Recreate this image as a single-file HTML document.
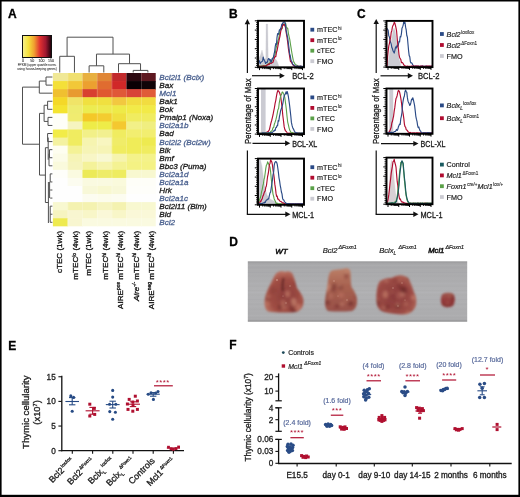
<!DOCTYPE html>
<html><head><meta charset="utf-8"><style>
html,body{margin:0;padding:0;background:#fff;}
svg{display:block;}
text{font-family:"Liberation Sans",sans-serif;stroke-width:0.3px;}
svg{will-change:transform;}
</style></head><body>
<svg xmlns="http://www.w3.org/2000/svg" width="520" height="497" viewBox="0 0 520 497">
<rect x="0" y="0" width="520" height="497" fill="#fff"/>
<text x="8.00" y="17.90" font-size="12" fill="#000" stroke="#000" text-anchor="start" font-weight="bold" style="stroke-width:0.3px">A</text>
<defs><linearGradient id="ck" x1="0" x2="1" y1="0" y2="0"><stop offset="0" stop-color="#f6f090"/><stop offset="0.2" stop-color="#f5e23c"/><stop offset="0.4" stop-color="#f0a030"/><stop offset="0.6" stop-color="#e03030"/><stop offset="0.8" stop-color="#a01830"/><stop offset="1" stop-color="#180008"/></linearGradient></defs>
<rect x="22.50" y="35.50" width="29.00" height="22.00" fill="url(#ck)" stroke="#111" stroke-width="1"/>
<line x1="23.00" y1="57.50" x2="23.00" y2="59.00" stroke="#333" stroke-width="0.6" />
<text x="23.00" y="62.30" font-size="3.6" fill="#333" stroke="#333" text-anchor="middle"  style="stroke-width:0.08px">0</text>
<line x1="32.30" y1="57.50" x2="32.30" y2="59.00" stroke="#333" stroke-width="0.6" />
<text x="32.30" y="62.30" font-size="3.6" fill="#333" stroke="#333" text-anchor="middle"  style="stroke-width:0.08px">50</text>
<line x1="41.60" y1="57.50" x2="41.60" y2="59.00" stroke="#333" stroke-width="0.6" />
<text x="41.60" y="62.30" font-size="3.6" fill="#333" stroke="#333" text-anchor="middle"  style="stroke-width:0.08px">100</text>
<line x1="50.90" y1="57.50" x2="50.90" y2="59.00" stroke="#333" stroke-width="0.6" />
<text x="50.90" y="62.30" font-size="3.6" fill="#333" stroke="#333" text-anchor="middle"  style="stroke-width:0.08px">150</text>
<text x="37.00" y="66.30" font-size="3.15" fill="#444" stroke="#444" text-anchor="middle"  style="stroke-width:0.08px">FPKM (upper quartile norm.</text>
<text x="37.00" y="70.30" font-size="3.15" fill="#444" stroke="#444" text-anchor="middle"  style="stroke-width:0.08px">using house-keeping genes)</text>
<rect x="52.90" y="73.00" width="15.29" height="8.67" fill="#f0e896" />
<rect x="67.59" y="73.00" width="15.29" height="8.67" fill="#f0e070" />
<rect x="82.28" y="73.00" width="15.29" height="8.67" fill="#e8b040" />
<rect x="96.97" y="73.00" width="15.29" height="8.67" fill="#e08636" />
<rect x="111.66" y="73.00" width="15.29" height="8.67" fill="#c22a2c" />
<rect x="126.35" y="73.00" width="15.29" height="8.67" fill="#2c0810" />
<rect x="141.04" y="73.00" width="14.69" height="8.67" fill="#5e1820" />
<rect x="52.90" y="81.07" width="15.29" height="8.67" fill="#f4e038" />
<rect x="67.59" y="81.07" width="15.29" height="8.67" fill="#f2c838" />
<rect x="82.28" y="81.07" width="15.29" height="8.67" fill="#eca030" />
<rect x="96.97" y="81.07" width="15.29" height="8.67" fill="#e06c30" />
<rect x="111.66" y="81.07" width="15.29" height="8.67" fill="#d02828" />
<rect x="126.35" y="81.07" width="15.29" height="8.67" fill="#0a0004" />
<rect x="141.04" y="81.07" width="14.69" height="8.67" fill="#100408" />
<rect x="52.90" y="89.14" width="15.29" height="8.67" fill="#f0c030" />
<rect x="67.59" y="89.14" width="15.29" height="8.67" fill="#e89a30" />
<rect x="82.28" y="89.14" width="15.29" height="8.67" fill="#d84030" />
<rect x="96.97" y="89.14" width="15.29" height="8.67" fill="#e05830" />
<rect x="111.66" y="89.14" width="15.29" height="8.67" fill="#e05838" />
<rect x="126.35" y="89.14" width="15.29" height="8.67" fill="#d84438" />
<rect x="141.04" y="89.14" width="14.69" height="8.67" fill="#e05c38" />
<rect x="52.90" y="97.21" width="15.29" height="8.67" fill="#f4d828" />
<rect x="67.59" y="97.21" width="15.29" height="8.67" fill="#f0e468" />
<rect x="82.28" y="97.21" width="15.29" height="8.67" fill="#f0e040" />
<rect x="96.97" y="97.21" width="15.29" height="8.67" fill="#f0e040" />
<rect x="111.66" y="97.21" width="15.29" height="8.67" fill="#f2c840" />
<rect x="126.35" y="97.21" width="15.29" height="8.67" fill="#f2dc40" />
<rect x="141.04" y="97.21" width="14.69" height="8.67" fill="#f2dc40" />
<rect x="52.90" y="105.28" width="15.29" height="8.67" fill="#f4e430" />
<rect x="67.59" y="105.28" width="15.29" height="8.67" fill="#eeec70" />
<rect x="82.28" y="105.28" width="15.29" height="8.67" fill="#ecec50" />
<rect x="96.97" y="105.28" width="15.29" height="8.67" fill="#eeea50" />
<rect x="111.66" y="105.28" width="15.29" height="8.67" fill="#eeea48" />
<rect x="126.35" y="105.28" width="15.29" height="8.67" fill="#f2ea48" />
<rect x="141.04" y="105.28" width="14.69" height="8.67" fill="#f2ea48" />
<rect x="52.90" y="113.35" width="15.29" height="8.67" fill="#fefef8" />
<rect x="67.59" y="113.35" width="15.29" height="8.67" fill="#f0ec70" />
<rect x="82.28" y="113.35" width="15.29" height="8.67" fill="#f4c828" />
<rect x="96.97" y="113.35" width="15.29" height="8.67" fill="#f4cc30" />
<rect x="111.66" y="113.35" width="15.29" height="8.67" fill="#f0e040" />
<rect x="126.35" y="113.35" width="15.29" height="8.67" fill="#f0ec60" />
<rect x="141.04" y="113.35" width="14.69" height="8.67" fill="#f0ec60" />
<rect x="52.90" y="121.42" width="15.29" height="8.67" fill="#fefef8" />
<rect x="67.59" y="121.42" width="15.29" height="8.67" fill="#f6f4c0" />
<rect x="82.28" y="121.42" width="15.29" height="8.67" fill="#eeec48" />
<rect x="96.97" y="121.42" width="15.29" height="8.67" fill="#eeec48" />
<rect x="111.66" y="121.42" width="15.29" height="8.67" fill="#f4c830" />
<rect x="126.35" y="121.42" width="15.29" height="8.67" fill="#f2f088" />
<rect x="141.04" y="121.42" width="14.69" height="8.67" fill="#f0ee80" />
<rect x="52.90" y="129.49" width="15.29" height="8.67" fill="#f2ec48" />
<rect x="67.59" y="129.49" width="15.29" height="8.67" fill="#f0ec60" />
<rect x="82.28" y="129.49" width="15.29" height="8.67" fill="#f2f088" />
<rect x="96.97" y="129.49" width="15.29" height="8.67" fill="#f2f090" />
<rect x="111.66" y="129.49" width="15.29" height="8.67" fill="#f0ec60" />
<rect x="126.35" y="129.49" width="15.29" height="8.67" fill="#f2ee70" />
<rect x="141.04" y="129.49" width="14.69" height="8.67" fill="#f2ee70" />
<rect x="52.90" y="137.56" width="15.29" height="8.67" fill="#f4f2a0" />
<rect x="67.59" y="137.56" width="15.29" height="8.67" fill="#f0ec60" />
<rect x="82.28" y="137.56" width="15.29" height="8.67" fill="#f6f4b0" />
<rect x="96.97" y="137.56" width="15.29" height="8.67" fill="#f8f6c0" />
<rect x="111.66" y="137.56" width="15.29" height="8.67" fill="#f0ec68" />
<rect x="126.35" y="137.56" width="15.29" height="8.67" fill="#f0ec58" />
<rect x="141.04" y="137.56" width="14.69" height="8.67" fill="#eeea50" />
<rect x="52.90" y="145.63" width="15.29" height="8.67" fill="#fefef0" />
<rect x="67.59" y="145.63" width="15.29" height="8.67" fill="#f4f296" />
<rect x="82.28" y="145.63" width="15.29" height="8.67" fill="#f6f4b6" />
<rect x="96.97" y="145.63" width="15.29" height="8.67" fill="#f6f4b6" />
<rect x="111.66" y="145.63" width="15.29" height="8.67" fill="#f0ec60" />
<rect x="126.35" y="145.63" width="15.29" height="8.67" fill="#f0ec58" />
<rect x="141.04" y="145.63" width="14.69" height="8.67" fill="#f0ec60" />
<rect x="52.90" y="153.70" width="15.29" height="8.67" fill="#fcfce8" />
<rect x="67.59" y="153.70" width="15.29" height="8.67" fill="#f6f4b6" />
<rect x="82.28" y="153.70" width="15.29" height="8.67" fill="#f8f6c6" />
<rect x="96.97" y="153.70" width="15.29" height="8.67" fill="#f8f8d4" />
<rect x="111.66" y="153.70" width="15.29" height="8.67" fill="#f6f4ae" />
<rect x="126.35" y="153.70" width="15.29" height="8.67" fill="#f4f28a" />
<rect x="141.04" y="153.70" width="14.69" height="8.67" fill="#f4f28a" />
<rect x="52.90" y="161.77" width="15.29" height="8.67" fill="#fafadc" />
<rect x="67.59" y="161.77" width="15.29" height="8.67" fill="#f6f4bc" />
<rect x="82.28" y="161.77" width="15.29" height="8.67" fill="#f4f29a" />
<rect x="96.97" y="161.77" width="15.29" height="8.67" fill="#f6f4ae" />
<rect x="111.66" y="161.77" width="15.29" height="8.67" fill="#f4f292" />
<rect x="126.35" y="161.77" width="15.29" height="8.67" fill="#f4f284" />
<rect x="141.04" y="161.77" width="14.69" height="8.67" fill="#f4f284" />
<rect x="52.90" y="169.84" width="15.29" height="8.67" fill="#fefefa" />
<rect x="67.59" y="169.84" width="15.29" height="8.67" fill="#fafae0" />
<rect x="82.28" y="169.84" width="15.29" height="8.67" fill="#ecea58" />
<rect x="96.97" y="169.84" width="15.29" height="8.67" fill="#eeec68" />
<rect x="111.66" y="169.84" width="15.29" height="8.67" fill="#eeec60" />
<rect x="126.35" y="169.84" width="15.29" height="8.67" fill="#f8f8d0" />
<rect x="141.04" y="169.84" width="14.69" height="8.67" fill="#f8f8d0" />
<rect x="52.90" y="177.91" width="15.29" height="8.67" fill="#fefefe" />
<rect x="67.59" y="177.91" width="15.29" height="8.67" fill="#fcfcf0" />
<rect x="82.28" y="177.91" width="15.29" height="8.67" fill="#fafae0" />
<rect x="96.97" y="177.91" width="15.29" height="8.67" fill="#fafae0" />
<rect x="111.66" y="177.91" width="15.29" height="8.67" fill="#fafadc" />
<rect x="126.35" y="177.91" width="15.29" height="8.67" fill="#fefef8" />
<rect x="141.04" y="177.91" width="14.69" height="8.67" fill="#fefef8" />
<rect x="52.90" y="185.98" width="15.29" height="8.67" fill="#fefefe" />
<rect x="67.59" y="185.98" width="15.29" height="8.67" fill="#fefefe" />
<rect x="82.28" y="185.98" width="15.29" height="8.67" fill="#f8f8d8" />
<rect x="96.97" y="185.98" width="15.29" height="8.67" fill="#f8f8d0" />
<rect x="111.66" y="185.98" width="15.29" height="8.67" fill="#f8f8d8" />
<rect x="126.35" y="185.98" width="15.29" height="8.67" fill="#fefefa" />
<rect x="141.04" y="185.98" width="14.69" height="8.67" fill="#fefefa" />
<rect x="52.90" y="194.05" width="15.29" height="8.67" fill="#fefefe" />
<rect x="67.59" y="194.05" width="15.29" height="8.67" fill="#fefefe" />
<rect x="82.28" y="194.05" width="15.29" height="8.67" fill="#fcfcf0" />
<rect x="96.97" y="194.05" width="15.29" height="8.67" fill="#fcfcec" />
<rect x="111.66" y="194.05" width="15.29" height="8.67" fill="#fcfcf0" />
<rect x="126.35" y="194.05" width="15.29" height="8.67" fill="#fefefe" />
<rect x="141.04" y="194.05" width="14.69" height="8.67" fill="#fefefe" />
<rect x="52.90" y="202.12" width="15.29" height="8.67" fill="#f8f8d0" />
<rect x="67.59" y="202.12" width="15.29" height="8.67" fill="#f4f2b0" />
<rect x="82.28" y="202.12" width="15.29" height="8.67" fill="#f4f2b0" />
<rect x="96.97" y="202.12" width="15.29" height="8.67" fill="#f6f4c0" />
<rect x="111.66" y="202.12" width="15.29" height="8.67" fill="#f4f2b0" />
<rect x="126.35" y="202.12" width="15.29" height="8.67" fill="#f8f8d0" />
<rect x="141.04" y="202.12" width="14.69" height="8.67" fill="#f8f8d0" />
<rect x="52.90" y="210.19" width="15.29" height="8.67" fill="#f6f4c0" />
<rect x="67.59" y="210.19" width="15.29" height="8.67" fill="#f8f6d0" />
<rect x="82.28" y="210.19" width="15.29" height="8.67" fill="#f8f6c8" />
<rect x="96.97" y="210.19" width="15.29" height="8.67" fill="#faf8d8" />
<rect x="111.66" y="210.19" width="15.29" height="8.67" fill="#f8f6c8" />
<rect x="126.35" y="210.19" width="15.29" height="8.67" fill="#faf8d8" />
<rect x="141.04" y="210.19" width="14.69" height="8.67" fill="#faf8d8" />
<rect x="52.90" y="218.26" width="15.29" height="8.07" fill="#eeea50" />
<rect x="67.59" y="218.26" width="15.29" height="8.07" fill="#f8f6d0" />
<rect x="82.28" y="218.26" width="15.29" height="8.07" fill="#fafae0" />
<rect x="96.97" y="218.26" width="15.29" height="8.07" fill="#fafae0" />
<rect x="111.66" y="218.26" width="15.29" height="8.07" fill="#fafae0" />
<rect x="126.35" y="218.26" width="15.29" height="8.07" fill="#fafae0" />
<rect x="141.04" y="218.26" width="14.69" height="8.07" fill="#fafae0" />
<line x1="67.89" y1="73.00" x2="67.89" y2="226.33" stroke="#ffffff" stroke-width="0.6" opacity="0.35"/>
<line x1="82.58" y1="73.00" x2="82.58" y2="226.33" stroke="#ffffff" stroke-width="0.6" opacity="0.35"/>
<line x1="97.27" y1="73.00" x2="97.27" y2="226.33" stroke="#ffffff" stroke-width="0.6" opacity="0.35"/>
<line x1="111.96" y1="73.00" x2="111.96" y2="226.33" stroke="#ffffff" stroke-width="0.6" opacity="0.35"/>
<line x1="126.65" y1="73.00" x2="126.65" y2="226.33" stroke="#ffffff" stroke-width="0.6" opacity="0.35"/>
<line x1="141.34" y1="73.00" x2="141.34" y2="226.33" stroke="#ffffff" stroke-width="0.6" opacity="0.35"/>
<line x1="59.74" y1="56.30" x2="74.44" y2="56.30" stroke="#505050" stroke-width="1.0" />
<line x1="59.74" y1="56.30" x2="59.74" y2="72.50" stroke="#505050" stroke-width="1.0" />
<line x1="74.44" y1="56.30" x2="74.44" y2="72.50" stroke="#505050" stroke-width="1.0" />
<line x1="89.12" y1="65.80" x2="103.81" y2="65.80" stroke="#505050" stroke-width="1.0" />
<line x1="89.12" y1="65.80" x2="89.12" y2="72.50" stroke="#505050" stroke-width="1.0" />
<line x1="103.81" y1="65.80" x2="103.81" y2="72.50" stroke="#505050" stroke-width="1.0" />
<line x1="133.19" y1="70.40" x2="147.88" y2="70.40" stroke="#505050" stroke-width="1.0" />
<line x1="133.19" y1="70.40" x2="133.19" y2="72.50" stroke="#505050" stroke-width="1.0" />
<line x1="147.88" y1="70.40" x2="147.88" y2="72.50" stroke="#505050" stroke-width="1.0" />
<line x1="118.50" y1="63.70" x2="140.54" y2="63.70" stroke="#505050" stroke-width="1.0" />
<line x1="118.50" y1="63.70" x2="118.50" y2="72.50" stroke="#505050" stroke-width="1.0" />
<line x1="140.54" y1="63.70" x2="140.54" y2="70.40" stroke="#505050" stroke-width="1.0" />
<line x1="96.47" y1="54.10" x2="129.52" y2="54.10" stroke="#505050" stroke-width="1.0" />
<line x1="96.47" y1="54.10" x2="96.47" y2="65.80" stroke="#505050" stroke-width="1.0" />
<line x1="129.52" y1="54.10" x2="129.52" y2="63.70" stroke="#505050" stroke-width="1.0" />
<line x1="67.09" y1="37.20" x2="113.00" y2="37.20" stroke="#505050" stroke-width="1.0" />
<line x1="67.09" y1="37.20" x2="67.09" y2="56.30" stroke="#505050" stroke-width="1.0" />
<line x1="113.00" y1="37.20" x2="113.00" y2="54.10" stroke="#505050" stroke-width="1.0" />
<line x1="46.00" y1="77.03" x2="52.40" y2="77.03" stroke="#505050" stroke-width="1.0" />
<line x1="46.00" y1="85.11" x2="52.40" y2="85.11" stroke="#505050" stroke-width="1.0" />
<line x1="46.00" y1="77.03" x2="46.00" y2="85.11" stroke="#505050" stroke-width="1.0" />
<line x1="39.30" y1="81.07" x2="46.00" y2="81.07" stroke="#505050" stroke-width="1.0" />
<line x1="39.30" y1="93.17" x2="52.40" y2="93.17" stroke="#505050" stroke-width="1.0" />
<line x1="39.30" y1="81.07" x2="39.30" y2="93.17" stroke="#505050" stroke-width="1.0" />
<line x1="22.50" y1="87.12" x2="39.30" y2="87.12" stroke="#505050" stroke-width="1.0" />
<line x1="47.60" y1="101.25" x2="52.40" y2="101.25" stroke="#505050" stroke-width="1.0" />
<line x1="47.60" y1="109.31" x2="52.40" y2="109.31" stroke="#505050" stroke-width="1.0" />
<line x1="47.60" y1="101.25" x2="47.60" y2="109.31" stroke="#505050" stroke-width="1.0" />
<line x1="48.00" y1="117.39" x2="52.40" y2="117.39" stroke="#505050" stroke-width="1.0" />
<line x1="48.00" y1="125.45" x2="52.40" y2="125.45" stroke="#505050" stroke-width="1.0" />
<line x1="48.00" y1="117.39" x2="48.00" y2="125.45" stroke="#505050" stroke-width="1.0" />
<line x1="44.10" y1="105.28" x2="47.60" y2="105.28" stroke="#505050" stroke-width="1.0" />
<line x1="44.10" y1="121.42" x2="48.00" y2="121.42" stroke="#505050" stroke-width="1.0" />
<line x1="44.10" y1="105.28" x2="44.10" y2="121.42" stroke="#505050" stroke-width="1.0" />
<line x1="39.50" y1="113.35" x2="44.10" y2="113.35" stroke="#505050" stroke-width="1.0" />
<line x1="47.60" y1="133.53" x2="52.40" y2="133.53" stroke="#505050" stroke-width="1.0" />
<line x1="47.60" y1="141.59" x2="52.40" y2="141.59" stroke="#505050" stroke-width="1.0" />
<line x1="47.60" y1="133.53" x2="47.60" y2="141.59" stroke="#505050" stroke-width="1.0" />
<line x1="49.50" y1="149.67" x2="52.40" y2="149.67" stroke="#505050" stroke-width="1.0" />
<line x1="49.50" y1="157.74" x2="52.40" y2="157.74" stroke="#505050" stroke-width="1.0" />
<line x1="49.00" y1="165.81" x2="52.40" y2="165.81" stroke="#505050" stroke-width="1.0" />
<line x1="49.50" y1="149.67" x2="49.50" y2="157.74" stroke="#505050" stroke-width="1.0" />
<line x1="49.00" y1="153.70" x2="49.00" y2="165.81" stroke="#505050" stroke-width="1.0" />
<line x1="48.20" y1="137.56" x2="48.20" y2="159.74" stroke="#505050" stroke-width="1.0" />
<line x1="50.20" y1="173.88" x2="52.40" y2="173.88" stroke="#505050" stroke-width="1.0" />
<line x1="50.20" y1="181.94" x2="52.40" y2="181.94" stroke="#505050" stroke-width="1.0" />
<line x1="50.20" y1="190.01" x2="52.40" y2="190.01" stroke="#505050" stroke-width="1.0" />
<line x1="50.20" y1="198.09" x2="52.40" y2="198.09" stroke="#505050" stroke-width="1.0" />
<line x1="50.20" y1="206.16" x2="52.40" y2="206.16" stroke="#505050" stroke-width="1.0" />
<line x1="50.20" y1="214.22" x2="52.40" y2="214.22" stroke="#505050" stroke-width="1.0" />
<line x1="50.20" y1="222.30" x2="52.40" y2="222.30" stroke="#505050" stroke-width="1.0" />
<line x1="50.20" y1="173.88" x2="50.20" y2="181.94" stroke="#505050" stroke-width="1.0" />
<line x1="49.60" y1="181.94" x2="49.60" y2="198.09" stroke="#505050" stroke-width="1.0" />
<line x1="50.20" y1="206.16" x2="50.20" y2="222.30" stroke="#505050" stroke-width="1.0" />
<line x1="48.40" y1="182.00" x2="48.40" y2="223.00" stroke="#505050" stroke-width="1.0" />
<line x1="45.40" y1="147.70" x2="48.20" y2="147.70" stroke="#505050" stroke-width="1.0" />
<line x1="45.40" y1="202.50" x2="48.40" y2="202.50" stroke="#505050" stroke-width="1.0" />
<line x1="45.40" y1="147.70" x2="45.40" y2="202.50" stroke="#505050" stroke-width="1.0" />
<line x1="39.50" y1="175.10" x2="45.40" y2="175.10" stroke="#505050" stroke-width="1.0" />
<line x1="39.50" y1="113.35" x2="39.50" y2="175.10" stroke="#505050" stroke-width="1.0" />
<line x1="22.50" y1="144.22" x2="39.50" y2="144.22" stroke="#505050" stroke-width="1.0" />
<line x1="22.50" y1="87.12" x2="22.50" y2="144.22" stroke="#505050" stroke-width="1.0" />
<text x="159.30" y="79.94" font-size="8.1" fill="#4c6290" stroke="#4c6290" text-anchor="start"  style="font-style:italic;stroke-width:0.3px">Bcl2l1 (Bclx)</text>
<text x="159.30" y="88.01" font-size="8.1" fill="#1a1a1a" stroke="#1a1a1a" text-anchor="start"  style="font-style:italic;stroke-width:0.3px">Bax</text>
<text x="159.30" y="96.08" font-size="8.1" fill="#4c6290" stroke="#4c6290" text-anchor="start"  style="font-style:italic;stroke-width:0.3px">Mcl1</text>
<text x="159.30" y="104.15" font-size="8.1" fill="#1a1a1a" stroke="#1a1a1a" text-anchor="start"  style="font-style:italic;stroke-width:0.3px">Bak1</text>
<text x="159.30" y="112.22" font-size="8.1" fill="#1a1a1a" stroke="#1a1a1a" text-anchor="start"  style="font-style:italic;stroke-width:0.3px">Bok</text>
<text x="159.30" y="120.29" font-size="8.1" fill="#1a1a1a" stroke="#1a1a1a" text-anchor="start"  style="font-style:italic;stroke-width:0.3px">Pmaip1 (Noxa)</text>
<text x="159.30" y="128.35" font-size="8.1" fill="#4c6290" stroke="#4c6290" text-anchor="start"  style="font-style:italic;stroke-width:0.3px">Bcl2a1b</text>
<text x="159.30" y="136.43" font-size="8.1" fill="#1a1a1a" stroke="#1a1a1a" text-anchor="start"  style="font-style:italic;stroke-width:0.3px">Bad</text>
<text x="159.30" y="144.50" font-size="8.1" fill="#4c6290" stroke="#4c6290" text-anchor="start"  style="font-style:italic;stroke-width:0.3px">Bcl2l2 (Bcl2w)</text>
<text x="159.30" y="152.57" font-size="8.1" fill="#1a1a1a" stroke="#1a1a1a" text-anchor="start"  style="font-style:italic;stroke-width:0.3px">Bik</text>
<text x="159.30" y="160.64" font-size="8.1" fill="#1a1a1a" stroke="#1a1a1a" text-anchor="start"  style="font-style:italic;stroke-width:0.3px">Bmf</text>
<text x="159.30" y="168.71" font-size="8.1" fill="#1a1a1a" stroke="#1a1a1a" text-anchor="start"  style="font-style:italic;stroke-width:0.3px">Bbc3 (Puma)</text>
<text x="159.30" y="176.78" font-size="8.1" fill="#4c6290" stroke="#4c6290" text-anchor="start"  style="font-style:italic;stroke-width:0.3px">Bcl2a1d</text>
<text x="159.30" y="184.84" font-size="8.1" fill="#4c6290" stroke="#4c6290" text-anchor="start"  style="font-style:italic;stroke-width:0.3px">Bcl2a1a</text>
<text x="159.30" y="192.91" font-size="8.1" fill="#1a1a1a" stroke="#1a1a1a" text-anchor="start"  style="font-style:italic;stroke-width:0.3px">Hrk</text>
<text x="159.30" y="200.99" font-size="8.1" fill="#4c6290" stroke="#4c6290" text-anchor="start"  style="font-style:italic;stroke-width:0.3px">Bcl2a1c</text>
<text x="159.30" y="209.06" font-size="8.1" fill="#1a1a1a" stroke="#1a1a1a" text-anchor="start"  style="font-style:italic;stroke-width:0.3px">Bcl2l11 (Bim)</text>
<text x="159.30" y="217.12" font-size="8.1" fill="#1a1a1a" stroke="#1a1a1a" text-anchor="start"  style="font-style:italic;stroke-width:0.3px">Bid</text>
<text x="159.30" y="225.20" font-size="8.1" fill="#4c6290" stroke="#4c6290" text-anchor="start"  style="font-style:italic;stroke-width:0.3px">Bcl2</text>
<text x="0" y="0" font-size="8.1" fill="#111" stroke="#111" text-anchor="end" style="stroke-width:0.3px" transform="translate(62.10,230.80) rotate(-90)">cTEC (1wk)</text>
<text x="0" y="0" font-size="8.1" fill="#111" stroke="#111" text-anchor="end" style="stroke-width:0.3px" transform="translate(78.40,230.80) rotate(-90)">mTEC<tspan dy="-2.5" font-size="5">lo</tspan><tspan dy="2.5"> (4wk)</tspan></text>
<text x="0" y="0" font-size="8.1" fill="#111" stroke="#111" text-anchor="end" style="stroke-width:0.3px" transform="translate(90.70,230.80) rotate(-90)">mTEC (1wk)</text>
<text x="0" y="0" font-size="8.1" fill="#111" stroke="#111" text-anchor="end" style="stroke-width:0.3px" transform="translate(108.10,230.80) rotate(-90)">mTEC<tspan dy="-2.5" font-size="5">hi</tspan><tspan dy="2.5"> (4wk)</tspan></text>
<text x="0" y="0" font-size="8.1" fill="#111" stroke="#111" text-anchor="end" style="stroke-width:0.3px" transform="translate(122.90,230.80) rotate(-90)">AIRE<tspan dy="-2.5" font-size="5">pos</tspan><tspan dy="2.5"> mTEC</tspan><tspan dy="-2.5" font-size="5">hi</tspan><tspan dy="2.5"> (4wk)</tspan></text>
<text x="0" y="0" font-size="8.1" fill="#111" stroke="#111" text-anchor="end" style="stroke-width:0.3px" transform="translate(138.60,230.80) rotate(-90)"><tspan font-style="italic">Aire<tspan dy="-2.5" font-size="5">-/-</tspan></tspan><tspan dy="2.5"> mTEC</tspan><tspan dy="-2.5" font-size="5">hi</tspan><tspan dy="2.5"> (4wk)</tspan></text>
<text x="0" y="0" font-size="8.1" fill="#111" stroke="#111" text-anchor="end" style="stroke-width:0.3px" transform="translate(153.60,230.80) rotate(-90)">AIRE<tspan dy="-2.5" font-size="5">neg</tspan><tspan dy="2.5"> mTEC</tspan><tspan dy="-2.5" font-size="5">hi</tspan><tspan dy="2.5"> (4wk)</tspan></text>
<text x="229.00" y="17.80" font-size="12" fill="#000" stroke="#000" text-anchor="start" font-weight="bold" style="stroke-width:0.3px">B</text>
<line x1="247.40" y1="23.00" x2="247.40" y2="73.00" stroke="#111" stroke-width="1.2" />
<path d="M244.70,24.20 L247.40,19.00 L250.10,24.20 Z" fill="#111"/>
<line x1="247.40" y1="150.60" x2="247.40" y2="214.30" stroke="#111" stroke-width="1.2" />
<line x1="246.80" y1="214.30" x2="286.50" y2="214.30" stroke="#111" stroke-width="1.2" />
<path d="M285.30,211.60 L290.50,214.30 L285.30,217.00 Z" fill="#111"/>
<text x="0" y="0" font-size="9.5" fill="#1a1a1a" stroke="#1a1a1a" text-anchor="middle" textLength="65.5" lengthAdjust="spacingAndGlyphs" transform="translate(250.60,111.2) rotate(-90)">Percentage of Max</text>
<line x1="252.00" y1="75.70" x2="280.80" y2="75.70" stroke="#111" stroke-width="1.2" />
<path d="M279.60,73.00 L284.80,75.70 L279.60,78.40 Z" fill="#111"/>
<line x1="252.50" y1="143.30" x2="286.30" y2="143.30" stroke="#111" stroke-width="1.2" />
<path d="M285.10,140.60 L290.30,143.30 L285.10,146.00 Z" fill="#111"/>
<text x="292.20" y="79.10" font-size="8.8" fill="#1a1a1a" stroke="#1a1a1a" text-anchor="start" textLength="21.5" lengthAdjust="spacingAndGlyphs" style="stroke-width:0.3px">BCL-2</text>
<text x="292.20" y="146.80" font-size="8.8" fill="#1a1a1a" stroke="#1a1a1a" text-anchor="start" textLength="25" lengthAdjust="spacingAndGlyphs" style="stroke-width:0.3px">BCL-XL</text>
<text x="292.20" y="217.80" font-size="8.8" fill="#1a1a1a" stroke="#1a1a1a" text-anchor="start" textLength="22" lengthAdjust="spacingAndGlyphs" style="stroke-width:0.3px">MCL-1</text>
<clipPath id="cb1"><rect x="258.00" y="20.80" width="46.00" height="46.50"/></clipPath>
<g clip-path="url(#cb1)">
<path d="M259.00,66.40 L259.00,58.00 L260.50,55.00 L262.00,50.00 L263.00,54.00 L264.50,60.00 L265.80,58.00 L266.10,24.00 L267.70,24.00 L268.20,58.00 L270.00,61.00 L272.00,62.00 L274.00,60.00 L275.50,59.00 L277.00,61.00 L279.00,66.40 Z" fill="#cbcbd2" stroke="#cbcbd2" stroke-width="0.3" stroke-linejoin="round" />
<path d="M259.00,66.14 L259.70,66.10 L260.40,66.17 L261.10,66.28 L261.80,65.83 L262.50,65.72 L263.20,65.72 L263.90,66.04 L264.60,65.47 L265.30,65.89 L266.00,65.75 L266.70,64.69 L267.40,64.64 L268.10,64.01 L268.80,63.43 L269.50,64.09 L270.20,61.66 L270.90,60.88 L271.60,62.31 L272.30,59.49 L273.00,57.58 L273.70,56.89 L274.40,55.11 L275.10,54.79 L275.80,49.66 L276.50,46.48 L277.20,44.31 L277.90,40.67 L278.60,38.93 L279.30,35.37 L280.00,30.48 L280.70,28.53 L281.40,29.41 L282.10,28.56 L282.80,23.71 L283.50,24.85 L284.20,24.86 L284.90,23.61 L285.60,23.19 L286.30,26.67 L287.00,28.16 L287.70,28.10 L288.40,33.31 L289.10,36.52 L289.80,39.62 L290.50,44.41 L291.20,48.60 L291.90,53.03 L292.60,56.93 L293.30,60.41 L294.00,62.37 L294.70,63.51 L295.40,64.64 L296.10,64.97 L296.80,65.04 L297.50,65.68 L298.20,66.47 L298.90,66.42 L299.60,66.49 L300.30,66.18 L301.00,66.23 L301.70,66.63 L302.40,66.45 L303.10,66.51 L303.80,66.18" fill="none" stroke="#5aa048" stroke-width="1.1" stroke-linejoin="round" />
<path d="M259.00,66.22 L259.70,66.22 L260.40,66.22 L261.10,66.45 L261.80,66.21 L262.50,66.28 L263.20,65.91 L263.90,66.08 L264.60,66.22 L265.30,65.89 L266.00,65.90 L266.70,65.60 L267.40,64.87 L268.10,64.18 L268.80,64.70 L269.50,63.64 L270.20,63.04 L270.90,63.49 L271.60,63.13 L272.30,62.58 L273.00,62.31 L273.70,59.92 L274.40,58.07 L275.10,56.23 L275.80,56.74 L276.50,52.28 L277.20,50.02 L277.90,46.12 L278.60,42.70 L279.30,39.02 L280.00,36.08 L280.70,31.68 L281.40,28.85 L282.10,27.83 L282.80,23.74 L283.50,24.91 L284.20,24.65 L284.90,25.80 L285.60,27.88 L286.30,33.11 L287.00,37.25 L287.70,42.29 L288.40,48.64 L289.10,52.86 L289.80,57.51 L290.50,61.54 L291.20,61.85 L291.90,63.15 L292.60,64.45 L293.30,65.33 L294.00,65.56 L294.70,66.26 L295.40,66.22 L296.10,66.21 L296.80,66.47 L297.50,66.20 L298.20,66.31 L298.90,66.35 L299.60,66.27 L300.30,66.20 L301.00,66.19 L301.70,66.60 L302.40,66.48 L303.10,66.60 L303.80,66.40" fill="none" stroke="#b00c30" stroke-width="1.15" stroke-linejoin="round" />
<path d="M259.00,60.29 L259.60,61.84 L260.20,63.62 L260.80,62.22 L261.40,61.91 L262.00,61.60 L262.60,60.97 L263.20,57.05 L263.80,59.36 L264.40,60.57 L265.00,61.51 L265.60,63.48 L266.20,62.77 L266.80,62.04 L267.40,62.28 L268.00,59.59 L268.60,58.54 L269.20,59.00 L269.80,60.38 L270.40,59.65 L271.00,62.33 L271.60,61.32 L272.20,58.48 L272.80,58.70 L273.40,57.45 L274.00,54.24 L274.60,51.98 L275.20,46.75 L275.80,43.58 L276.40,44.57 L277.00,37.57 L277.60,33.46 L278.20,34.61 L278.80,32.88 L279.40,29.77 L280.00,30.23 L280.60,28.50 L281.20,27.25 L281.80,24.20 L282.40,24.44 L283.00,22.58 L283.60,22.27 L284.20,21.64 L284.80,22.07 L285.40,23.65 L286.00,29.78 L286.60,32.61 L287.20,35.62 L287.80,38.37 L288.40,43.32 L289.00,48.19 L289.60,53.67 L290.20,55.36 L290.80,59.15 L291.40,60.75 L292.00,61.95 L292.60,64.12 L293.20,64.56 L293.80,64.97 L294.40,65.22 L295.00,65.81 L295.60,66.37 L296.20,66.28 L296.80,66.12 L297.40,66.39 L298.00,66.32 L298.60,66.58 L299.20,66.15 L299.80,66.64 L300.40,66.09 L301.00,66.43 L301.60,66.36 L302.20,66.28 L302.80,66.65 L303.40,66.53 L304.00,66.18" fill="none" stroke="#2a4a86" stroke-width="1.15" stroke-linejoin="round" />
</g>
<rect x="258.00" y="20.80" width="46.00" height="46.50" fill="none" stroke="#000" stroke-width="1.9"/>
<line x1="254.80" y1="67.30" x2="258.00" y2="67.30" stroke="#000" stroke-width="1.0" />
<line x1="256.00" y1="65.44" x2="258.00" y2="65.44" stroke="#000" stroke-width="0.8" />
<line x1="256.00" y1="63.58" x2="258.00" y2="63.58" stroke="#000" stroke-width="0.8" />
<line x1="256.00" y1="61.72" x2="258.00" y2="61.72" stroke="#000" stroke-width="0.8" />
<line x1="256.00" y1="59.86" x2="258.00" y2="59.86" stroke="#000" stroke-width="0.8" />
<line x1="254.80" y1="58.00" x2="258.00" y2="58.00" stroke="#000" stroke-width="1.0" />
<line x1="256.00" y1="56.14" x2="258.00" y2="56.14" stroke="#000" stroke-width="0.8" />
<line x1="256.00" y1="54.28" x2="258.00" y2="54.28" stroke="#000" stroke-width="0.8" />
<line x1="256.00" y1="52.42" x2="258.00" y2="52.42" stroke="#000" stroke-width="0.8" />
<line x1="256.00" y1="50.56" x2="258.00" y2="50.56" stroke="#000" stroke-width="0.8" />
<line x1="254.80" y1="48.70" x2="258.00" y2="48.70" stroke="#000" stroke-width="1.0" />
<line x1="256.00" y1="46.84" x2="258.00" y2="46.84" stroke="#000" stroke-width="0.8" />
<line x1="256.00" y1="44.98" x2="258.00" y2="44.98" stroke="#000" stroke-width="0.8" />
<line x1="256.00" y1="43.12" x2="258.00" y2="43.12" stroke="#000" stroke-width="0.8" />
<line x1="256.00" y1="41.26" x2="258.00" y2="41.26" stroke="#000" stroke-width="0.8" />
<line x1="254.80" y1="39.40" x2="258.00" y2="39.40" stroke="#000" stroke-width="1.0" />
<line x1="256.00" y1="37.54" x2="258.00" y2="37.54" stroke="#000" stroke-width="0.8" />
<line x1="256.00" y1="35.68" x2="258.00" y2="35.68" stroke="#000" stroke-width="0.8" />
<line x1="256.00" y1="33.82" x2="258.00" y2="33.82" stroke="#000" stroke-width="0.8" />
<line x1="256.00" y1="31.96" x2="258.00" y2="31.96" stroke="#000" stroke-width="0.8" />
<line x1="254.80" y1="30.10" x2="258.00" y2="30.10" stroke="#000" stroke-width="1.0" />
<line x1="256.00" y1="28.24" x2="258.00" y2="28.24" stroke="#000" stroke-width="0.8" />
<line x1="256.00" y1="26.38" x2="258.00" y2="26.38" stroke="#000" stroke-width="0.8" />
<line x1="256.00" y1="24.52" x2="258.00" y2="24.52" stroke="#000" stroke-width="0.8" />
<line x1="256.00" y1="22.66" x2="258.00" y2="22.66" stroke="#000" stroke-width="0.8" />
<line x1="254.80" y1="20.80" x2="258.00" y2="20.80" stroke="#000" stroke-width="1.0" />
<line x1="259.50" y1="67.30" x2="259.50" y2="70.10" stroke="#000" stroke-width="1.0" />
<line x1="262.74" y1="67.30" x2="262.74" y2="69.10" stroke="#000" stroke-width="0.85" />
<line x1="264.63" y1="67.30" x2="264.63" y2="69.10" stroke="#000" stroke-width="0.85" />
<line x1="265.97" y1="67.30" x2="265.97" y2="69.10" stroke="#000" stroke-width="0.85" />
<line x1="267.01" y1="67.30" x2="267.01" y2="69.10" stroke="#000" stroke-width="0.85" />
<line x1="267.87" y1="67.30" x2="267.87" y2="69.10" stroke="#000" stroke-width="0.85" />
<line x1="268.58" y1="67.30" x2="268.58" y2="69.10" stroke="#000" stroke-width="0.85" />
<line x1="269.21" y1="67.30" x2="269.21" y2="69.10" stroke="#000" stroke-width="0.85" />
<line x1="269.76" y1="67.30" x2="269.76" y2="69.10" stroke="#000" stroke-width="0.85" />
<line x1="270.25" y1="67.30" x2="270.25" y2="70.10" stroke="#000" stroke-width="1.0" />
<line x1="273.49" y1="67.30" x2="273.49" y2="69.10" stroke="#000" stroke-width="0.85" />
<line x1="275.38" y1="67.30" x2="275.38" y2="69.10" stroke="#000" stroke-width="0.85" />
<line x1="276.72" y1="67.30" x2="276.72" y2="69.10" stroke="#000" stroke-width="0.85" />
<line x1="277.76" y1="67.30" x2="277.76" y2="69.10" stroke="#000" stroke-width="0.85" />
<line x1="278.62" y1="67.30" x2="278.62" y2="69.10" stroke="#000" stroke-width="0.85" />
<line x1="279.33" y1="67.30" x2="279.33" y2="69.10" stroke="#000" stroke-width="0.85" />
<line x1="279.96" y1="67.30" x2="279.96" y2="69.10" stroke="#000" stroke-width="0.85" />
<line x1="280.51" y1="67.30" x2="280.51" y2="69.10" stroke="#000" stroke-width="0.85" />
<line x1="281.00" y1="67.30" x2="281.00" y2="70.10" stroke="#000" stroke-width="1.0" />
<line x1="284.24" y1="67.30" x2="284.24" y2="69.10" stroke="#000" stroke-width="0.85" />
<line x1="286.13" y1="67.30" x2="286.13" y2="69.10" stroke="#000" stroke-width="0.85" />
<line x1="287.47" y1="67.30" x2="287.47" y2="69.10" stroke="#000" stroke-width="0.85" />
<line x1="288.51" y1="67.30" x2="288.51" y2="69.10" stroke="#000" stroke-width="0.85" />
<line x1="289.37" y1="67.30" x2="289.37" y2="69.10" stroke="#000" stroke-width="0.85" />
<line x1="290.08" y1="67.30" x2="290.08" y2="69.10" stroke="#000" stroke-width="0.85" />
<line x1="290.71" y1="67.30" x2="290.71" y2="69.10" stroke="#000" stroke-width="0.85" />
<line x1="291.26" y1="67.30" x2="291.26" y2="69.10" stroke="#000" stroke-width="0.85" />
<line x1="291.75" y1="67.30" x2="291.75" y2="70.10" stroke="#000" stroke-width="1.0" />
<line x1="294.99" y1="67.30" x2="294.99" y2="69.10" stroke="#000" stroke-width="0.85" />
<line x1="296.88" y1="67.30" x2="296.88" y2="69.10" stroke="#000" stroke-width="0.85" />
<line x1="298.22" y1="67.30" x2="298.22" y2="69.10" stroke="#000" stroke-width="0.85" />
<line x1="299.26" y1="67.30" x2="299.26" y2="69.10" stroke="#000" stroke-width="0.85" />
<line x1="300.12" y1="67.30" x2="300.12" y2="69.10" stroke="#000" stroke-width="0.85" />
<line x1="300.83" y1="67.30" x2="300.83" y2="69.10" stroke="#000" stroke-width="0.85" />
<line x1="301.46" y1="67.30" x2="301.46" y2="69.10" stroke="#000" stroke-width="0.85" />
<line x1="302.01" y1="67.30" x2="302.01" y2="69.10" stroke="#000" stroke-width="0.85" />
<line x1="302.50" y1="67.30" x2="302.50" y2="70.10" stroke="#000" stroke-width="1.0" />
<clipPath id="cb2"><rect x="258.00" y="88.50" width="46.00" height="45.60"/></clipPath>
<g clip-path="url(#cb2)">
<rect x="261.00" y="88.50" width="4.60" height="45.60" fill="#cbcbd2" />
<path d="M259.00,133.21 L259.70,133.21 L260.40,133.30 L261.10,133.30 L261.80,133.26 L262.50,132.98 L263.20,133.24 L263.90,132.95 L264.60,132.86 L265.30,132.72 L266.00,132.91 L266.70,132.24 L267.40,131.87 L268.10,131.63 L268.80,130.64 L269.50,129.42 L270.20,126.13 L270.90,123.14 L271.60,120.76 L272.30,117.88 L273.00,114.98 L273.70,111.13 L274.40,107.78 L275.10,103.46 L275.80,100.33 L276.50,95.90 L277.20,92.46 L277.90,90.40 L278.60,91.06 L279.30,92.08 L280.00,94.03 L280.70,96.47 L281.40,102.00 L282.10,107.61 L282.80,115.46 L283.50,120.83 L284.20,126.92 L284.90,129.61 L285.60,130.85 L286.30,131.53 L287.00,132.51 L287.70,133.38 L288.40,133.33 L289.10,133.16 L289.80,133.32 L290.50,133.13 L291.20,133.36 L291.90,133.02 L292.60,133.30 L293.30,133.41 L294.00,133.17 L294.70,133.18 L295.40,133.04 L296.10,133.10 L296.80,133.09 L297.50,133.11 L298.20,133.01 L298.90,133.11 L299.60,133.03 L300.30,133.21 L301.00,133.16 L301.70,133.08 L302.40,133.39 L303.10,133.12 L303.80,133.21" fill="none" stroke="#b00c30" stroke-width="1.15" stroke-linejoin="round" />
<path d="M259.00,133.22 L259.70,133.28 L260.40,133.25 L261.10,133.27 L261.80,132.97 L262.50,133.27 L263.20,133.04 L263.90,133.10 L264.60,133.08 L265.30,133.14 L266.00,132.76 L266.70,132.78 L267.40,132.94 L268.10,132.84 L268.80,132.90 L269.50,132.64 L270.20,132.80 L270.90,131.26 L271.60,131.25 L272.30,130.03 L273.00,127.78 L273.70,127.47 L274.40,123.96 L275.10,122.14 L275.80,119.95 L276.50,117.01 L277.20,113.53 L277.90,109.77 L278.60,108.46 L279.30,102.53 L280.00,99.02 L280.70,95.55 L281.40,94.93 L282.10,92.16 L282.80,92.10 L283.50,93.81 L284.20,94.99 L284.90,98.20 L285.60,103.48 L286.30,109.02 L287.00,116.27 L287.70,122.01 L288.40,124.78 L289.10,128.10 L289.80,130.34 L290.50,131.64 L291.20,132.57 L291.90,132.67 L292.60,132.60 L293.30,132.95 L294.00,133.35 L294.70,133.18 L295.40,133.28 L296.10,133.10 L296.80,133.24 L297.50,133.08 L298.20,133.32 L298.90,133.34 L299.60,132.99 L300.30,133.27 L301.00,133.02 L301.70,133.39 L302.40,133.06 L303.10,133.04 L303.80,133.37" fill="none" stroke="#5aa048" stroke-width="1.1" stroke-linejoin="round" />
<path d="M259.00,133.11 L259.60,133.44 L260.20,133.41 L260.80,133.37 L261.40,133.28 L262.00,133.31 L262.60,132.76 L263.20,133.12 L263.80,132.86 L264.40,133.14 L265.00,132.93 L265.60,132.99 L266.20,132.95 L266.80,132.95 L267.40,133.10 L268.00,133.19 L268.60,132.72 L269.20,133.03 L269.80,133.07 L270.40,132.68 L271.00,132.46 L271.60,132.71 L272.20,132.74 L272.80,132.01 L273.40,131.02 L274.00,131.22 L274.60,130.04 L275.20,130.43 L275.80,127.50 L276.40,127.50 L277.00,125.59 L277.60,125.65 L278.20,120.50 L278.80,121.07 L279.40,116.90 L280.00,114.04 L280.60,110.75 L281.20,109.05 L281.80,107.81 L282.40,105.26 L283.00,102.58 L283.60,99.00 L284.20,95.52 L284.80,94.89 L285.40,93.81 L286.00,91.88 L286.60,93.91 L287.20,91.50 L287.80,93.55 L288.40,96.73 L289.00,100.80 L289.60,105.23 L290.20,110.66 L290.80,115.95 L291.40,122.38 L292.00,125.16 L292.60,127.42 L293.20,128.63 L293.80,129.81 L294.40,131.31 L295.00,132.27 L295.60,132.41 L296.20,132.94 L296.80,132.77 L297.40,133.19 L298.00,133.12 L298.60,133.01 L299.20,133.01 L299.80,133.36 L300.40,133.22 L301.00,132.98 L301.60,133.42 L302.20,133.08 L302.80,133.08 L303.40,132.93 L304.00,133.09" fill="none" stroke="#2a4a86" stroke-width="1.15" stroke-linejoin="round" />
</g>
<rect x="258.00" y="88.50" width="46.00" height="45.60" fill="none" stroke="#000" stroke-width="1.9"/>
<line x1="254.80" y1="134.10" x2="258.00" y2="134.10" stroke="#000" stroke-width="1.0" />
<line x1="256.00" y1="132.28" x2="258.00" y2="132.28" stroke="#000" stroke-width="0.8" />
<line x1="256.00" y1="130.45" x2="258.00" y2="130.45" stroke="#000" stroke-width="0.8" />
<line x1="256.00" y1="128.63" x2="258.00" y2="128.63" stroke="#000" stroke-width="0.8" />
<line x1="256.00" y1="126.80" x2="258.00" y2="126.80" stroke="#000" stroke-width="0.8" />
<line x1="254.80" y1="124.98" x2="258.00" y2="124.98" stroke="#000" stroke-width="1.0" />
<line x1="256.00" y1="123.16" x2="258.00" y2="123.16" stroke="#000" stroke-width="0.8" />
<line x1="256.00" y1="121.33" x2="258.00" y2="121.33" stroke="#000" stroke-width="0.8" />
<line x1="256.00" y1="119.51" x2="258.00" y2="119.51" stroke="#000" stroke-width="0.8" />
<line x1="256.00" y1="117.68" x2="258.00" y2="117.68" stroke="#000" stroke-width="0.8" />
<line x1="254.80" y1="115.86" x2="258.00" y2="115.86" stroke="#000" stroke-width="1.0" />
<line x1="256.00" y1="114.04" x2="258.00" y2="114.04" stroke="#000" stroke-width="0.8" />
<line x1="256.00" y1="112.21" x2="258.00" y2="112.21" stroke="#000" stroke-width="0.8" />
<line x1="256.00" y1="110.39" x2="258.00" y2="110.39" stroke="#000" stroke-width="0.8" />
<line x1="256.00" y1="108.56" x2="258.00" y2="108.56" stroke="#000" stroke-width="0.8" />
<line x1="254.80" y1="106.74" x2="258.00" y2="106.74" stroke="#000" stroke-width="1.0" />
<line x1="256.00" y1="104.92" x2="258.00" y2="104.92" stroke="#000" stroke-width="0.8" />
<line x1="256.00" y1="103.09" x2="258.00" y2="103.09" stroke="#000" stroke-width="0.8" />
<line x1="256.00" y1="101.27" x2="258.00" y2="101.27" stroke="#000" stroke-width="0.8" />
<line x1="256.00" y1="99.44" x2="258.00" y2="99.44" stroke="#000" stroke-width="0.8" />
<line x1="254.80" y1="97.62" x2="258.00" y2="97.62" stroke="#000" stroke-width="1.0" />
<line x1="256.00" y1="95.80" x2="258.00" y2="95.80" stroke="#000" stroke-width="0.8" />
<line x1="256.00" y1="93.97" x2="258.00" y2="93.97" stroke="#000" stroke-width="0.8" />
<line x1="256.00" y1="92.15" x2="258.00" y2="92.15" stroke="#000" stroke-width="0.8" />
<line x1="256.00" y1="90.32" x2="258.00" y2="90.32" stroke="#000" stroke-width="0.8" />
<line x1="254.80" y1="88.50" x2="258.00" y2="88.50" stroke="#000" stroke-width="1.0" />
<line x1="259.50" y1="134.10" x2="259.50" y2="136.90" stroke="#000" stroke-width="1.0" />
<line x1="262.74" y1="134.10" x2="262.74" y2="135.90" stroke="#000" stroke-width="0.85" />
<line x1="264.63" y1="134.10" x2="264.63" y2="135.90" stroke="#000" stroke-width="0.85" />
<line x1="265.97" y1="134.10" x2="265.97" y2="135.90" stroke="#000" stroke-width="0.85" />
<line x1="267.01" y1="134.10" x2="267.01" y2="135.90" stroke="#000" stroke-width="0.85" />
<line x1="267.87" y1="134.10" x2="267.87" y2="135.90" stroke="#000" stroke-width="0.85" />
<line x1="268.58" y1="134.10" x2="268.58" y2="135.90" stroke="#000" stroke-width="0.85" />
<line x1="269.21" y1="134.10" x2="269.21" y2="135.90" stroke="#000" stroke-width="0.85" />
<line x1="269.76" y1="134.10" x2="269.76" y2="135.90" stroke="#000" stroke-width="0.85" />
<line x1="270.25" y1="134.10" x2="270.25" y2="136.90" stroke="#000" stroke-width="1.0" />
<line x1="273.49" y1="134.10" x2="273.49" y2="135.90" stroke="#000" stroke-width="0.85" />
<line x1="275.38" y1="134.10" x2="275.38" y2="135.90" stroke="#000" stroke-width="0.85" />
<line x1="276.72" y1="134.10" x2="276.72" y2="135.90" stroke="#000" stroke-width="0.85" />
<line x1="277.76" y1="134.10" x2="277.76" y2="135.90" stroke="#000" stroke-width="0.85" />
<line x1="278.62" y1="134.10" x2="278.62" y2="135.90" stroke="#000" stroke-width="0.85" />
<line x1="279.33" y1="134.10" x2="279.33" y2="135.90" stroke="#000" stroke-width="0.85" />
<line x1="279.96" y1="134.10" x2="279.96" y2="135.90" stroke="#000" stroke-width="0.85" />
<line x1="280.51" y1="134.10" x2="280.51" y2="135.90" stroke="#000" stroke-width="0.85" />
<line x1="281.00" y1="134.10" x2="281.00" y2="136.90" stroke="#000" stroke-width="1.0" />
<line x1="284.24" y1="134.10" x2="284.24" y2="135.90" stroke="#000" stroke-width="0.85" />
<line x1="286.13" y1="134.10" x2="286.13" y2="135.90" stroke="#000" stroke-width="0.85" />
<line x1="287.47" y1="134.10" x2="287.47" y2="135.90" stroke="#000" stroke-width="0.85" />
<line x1="288.51" y1="134.10" x2="288.51" y2="135.90" stroke="#000" stroke-width="0.85" />
<line x1="289.37" y1="134.10" x2="289.37" y2="135.90" stroke="#000" stroke-width="0.85" />
<line x1="290.08" y1="134.10" x2="290.08" y2="135.90" stroke="#000" stroke-width="0.85" />
<line x1="290.71" y1="134.10" x2="290.71" y2="135.90" stroke="#000" stroke-width="0.85" />
<line x1="291.26" y1="134.10" x2="291.26" y2="135.90" stroke="#000" stroke-width="0.85" />
<line x1="291.75" y1="134.10" x2="291.75" y2="136.90" stroke="#000" stroke-width="1.0" />
<line x1="294.99" y1="134.10" x2="294.99" y2="135.90" stroke="#000" stroke-width="0.85" />
<line x1="296.88" y1="134.10" x2="296.88" y2="135.90" stroke="#000" stroke-width="0.85" />
<line x1="298.22" y1="134.10" x2="298.22" y2="135.90" stroke="#000" stroke-width="0.85" />
<line x1="299.26" y1="134.10" x2="299.26" y2="135.90" stroke="#000" stroke-width="0.85" />
<line x1="300.12" y1="134.10" x2="300.12" y2="135.90" stroke="#000" stroke-width="0.85" />
<line x1="300.83" y1="134.10" x2="300.83" y2="135.90" stroke="#000" stroke-width="0.85" />
<line x1="301.46" y1="134.10" x2="301.46" y2="135.90" stroke="#000" stroke-width="0.85" />
<line x1="302.01" y1="134.10" x2="302.01" y2="135.90" stroke="#000" stroke-width="0.85" />
<line x1="302.50" y1="134.10" x2="302.50" y2="136.90" stroke="#000" stroke-width="1.0" />
<clipPath id="cb3"><rect x="258.00" y="158.60" width="46.00" height="46.20"/></clipPath>
<g clip-path="url(#cb3)">
<path d="M258.50,203.90 L258.50,160.00 L260.50,160.00 L262.00,166.00 L263.50,178.00 L265.00,188.00 L267.00,195.00 L270.00,199.00 L274.00,201.00 L277.00,202.50 L279.00,203.90 Z" fill="#cbcbd2" stroke="#cbcbd2" stroke-width="0.3" stroke-linejoin="round" />
<path d="M258.60,203.99 L259.20,200.67 L259.80,199.10 L260.40,197.51 L261.00,195.08 L261.60,191.65 L262.20,189.62 L262.80,186.18 L263.40,183.89 L264.00,179.73 L264.60,177.44 L265.20,173.02 L265.80,168.38 L266.40,165.19 L267.00,164.27 L267.60,161.77 L268.20,163.14 L268.80,164.08 L269.40,165.75 L270.00,167.17 L270.60,171.62 L271.20,178.32 L271.80,183.86 L272.40,189.59 L273.00,194.06 L273.60,196.20 L274.20,198.91 L274.80,200.31 L275.40,201.15 L276.00,203.42 L276.60,203.29 L277.20,203.50 L277.80,203.33 L278.40,203.79 L279.00,204.00 L279.60,203.63 L280.20,203.94 L280.80,203.67 L281.40,203.83 L282.00,203.73 L282.60,204.08 L283.20,204.01 L283.80,204.09 L284.40,203.76 L285.00,204.01 L285.60,204.00 L286.20,203.91 L286.80,204.10 L287.40,203.96 L288.00,203.79 L288.60,204.01 L289.20,203.89 L289.80,203.76 L290.40,203.96 L291.00,203.68 L291.60,203.88 L292.20,203.93 L292.80,203.66 L293.40,203.97 L294.00,203.70 L294.60,203.97 L295.20,203.82 L295.80,203.67 L296.40,204.14 L297.00,203.69 L297.60,203.73 L298.20,203.90 L298.80,203.78 L299.40,203.91 L300.00,203.89 L300.60,203.94 L301.20,203.92 L301.80,203.80 L302.40,203.76 L303.00,203.99 L303.60,203.87" fill="none" stroke="#5aa048" stroke-width="1.1" stroke-linejoin="round" />
<path d="M258.60,203.97 L259.20,203.12 L259.80,202.69 L260.40,201.13 L261.00,201.33 L261.60,199.53 L262.20,198.88 L262.80,196.37 L263.40,195.30 L264.00,193.24 L264.60,191.65 L265.20,190.80 L265.80,187.18 L266.40,185.97 L267.00,181.27 L267.60,176.50 L268.20,173.98 L268.80,169.55 L269.40,164.46 L270.00,163.46 L270.60,159.87 L271.20,160.77 L271.80,161.92 L272.40,164.80 L273.00,169.60 L273.60,173.37 L274.20,177.46 L274.80,184.17 L275.40,187.94 L276.00,193.19 L276.60,196.43 L277.20,196.05 L277.80,199.14 L278.40,198.98 L279.00,199.91 L279.60,200.82 L280.20,201.17 L280.80,201.41 L281.40,201.81 L282.00,202.43 L282.60,202.96 L283.20,202.78 L283.80,203.25 L284.40,203.46 L285.00,204.01 L285.60,203.78 L286.20,204.02 L286.80,203.67 L287.40,204.07 L288.00,203.86 L288.60,204.11 L289.20,204.04 L289.80,204.07 L290.40,203.67 L291.00,204.02 L291.60,203.91 L292.20,204.09 L292.80,203.93 L293.40,203.83 L294.00,204.10 L294.60,204.14 L295.20,203.76 L295.80,203.73 L296.40,203.87 L297.00,203.98 L297.60,203.74 L298.20,203.94 L298.80,203.92 L299.40,204.05 L300.00,203.73 L300.60,203.73 L301.20,203.91 L301.80,204.02 L302.40,203.94 L303.00,204.02 L303.60,203.79" fill="none" stroke="#b00c30" stroke-width="1.15" stroke-linejoin="round" />
<path d="M258.60,203.76 L259.20,203.77 L259.80,203.60 L260.40,203.64 L261.00,203.66 L261.60,203.65 L262.20,203.33 L262.80,203.32 L263.40,202.89 L264.00,203.06 L264.60,202.16 L265.20,202.49 L265.80,201.03 L266.40,200.11 L267.00,199.95 L267.60,199.08 L268.20,199.10 L268.80,198.29 L269.40,195.34 L270.00,192.85 L270.60,192.17 L271.20,188.14 L271.80,184.28 L272.40,180.42 L273.00,174.88 L273.60,172.40 L274.20,165.35 L274.80,162.74 L275.40,161.84 L276.00,161.54 L276.60,162.28 L277.20,164.13 L277.80,167.97 L278.40,172.34 L279.00,177.82 L279.60,180.89 L280.20,185.27 L280.80,188.22 L281.40,191.98 L282.00,193.94 L282.60,198.41 L283.20,199.63 L283.80,199.91 L284.40,201.52 L285.00,202.29 L285.60,202.49 L286.20,203.63 L286.80,203.65 L287.40,203.56 L288.00,203.91 L288.60,203.50 L289.20,203.55 L289.80,203.99 L290.40,203.98 L291.00,203.66 L291.60,203.95 L292.20,203.94 L292.80,203.84 L293.40,203.72 L294.00,204.05 L294.60,204.09 L295.20,203.93 L295.80,203.76 L296.40,203.92 L297.00,203.97 L297.60,203.91 L298.20,204.05 L298.80,203.77 L299.40,204.09 L300.00,204.01 L300.60,203.72 L301.20,203.70 L301.80,204.04 L302.40,203.82 L303.00,204.09 L303.60,204.11" fill="none" stroke="#2a4a86" stroke-width="1.15" stroke-linejoin="round" />
</g>
<rect x="258.00" y="158.60" width="46.00" height="46.20" fill="none" stroke="#000" stroke-width="1.9"/>
<line x1="254.80" y1="204.80" x2="258.00" y2="204.80" stroke="#000" stroke-width="1.0" />
<line x1="256.00" y1="202.95" x2="258.00" y2="202.95" stroke="#000" stroke-width="0.8" />
<line x1="256.00" y1="201.10" x2="258.00" y2="201.10" stroke="#000" stroke-width="0.8" />
<line x1="256.00" y1="199.26" x2="258.00" y2="199.26" stroke="#000" stroke-width="0.8" />
<line x1="256.00" y1="197.41" x2="258.00" y2="197.41" stroke="#000" stroke-width="0.8" />
<line x1="254.80" y1="195.56" x2="258.00" y2="195.56" stroke="#000" stroke-width="1.0" />
<line x1="256.00" y1="193.71" x2="258.00" y2="193.71" stroke="#000" stroke-width="0.8" />
<line x1="256.00" y1="191.86" x2="258.00" y2="191.86" stroke="#000" stroke-width="0.8" />
<line x1="256.00" y1="190.02" x2="258.00" y2="190.02" stroke="#000" stroke-width="0.8" />
<line x1="256.00" y1="188.17" x2="258.00" y2="188.17" stroke="#000" stroke-width="0.8" />
<line x1="254.80" y1="186.32" x2="258.00" y2="186.32" stroke="#000" stroke-width="1.0" />
<line x1="256.00" y1="184.47" x2="258.00" y2="184.47" stroke="#000" stroke-width="0.8" />
<line x1="256.00" y1="182.62" x2="258.00" y2="182.62" stroke="#000" stroke-width="0.8" />
<line x1="256.00" y1="180.78" x2="258.00" y2="180.78" stroke="#000" stroke-width="0.8" />
<line x1="256.00" y1="178.93" x2="258.00" y2="178.93" stroke="#000" stroke-width="0.8" />
<line x1="254.80" y1="177.08" x2="258.00" y2="177.08" stroke="#000" stroke-width="1.0" />
<line x1="256.00" y1="175.23" x2="258.00" y2="175.23" stroke="#000" stroke-width="0.8" />
<line x1="256.00" y1="173.38" x2="258.00" y2="173.38" stroke="#000" stroke-width="0.8" />
<line x1="256.00" y1="171.54" x2="258.00" y2="171.54" stroke="#000" stroke-width="0.8" />
<line x1="256.00" y1="169.69" x2="258.00" y2="169.69" stroke="#000" stroke-width="0.8" />
<line x1="254.80" y1="167.84" x2="258.00" y2="167.84" stroke="#000" stroke-width="1.0" />
<line x1="256.00" y1="165.99" x2="258.00" y2="165.99" stroke="#000" stroke-width="0.8" />
<line x1="256.00" y1="164.14" x2="258.00" y2="164.14" stroke="#000" stroke-width="0.8" />
<line x1="256.00" y1="162.30" x2="258.00" y2="162.30" stroke="#000" stroke-width="0.8" />
<line x1="256.00" y1="160.45" x2="258.00" y2="160.45" stroke="#000" stroke-width="0.8" />
<line x1="254.80" y1="158.60" x2="258.00" y2="158.60" stroke="#000" stroke-width="1.0" />
<line x1="259.50" y1="204.80" x2="259.50" y2="207.60" stroke="#000" stroke-width="1.0" />
<line x1="262.74" y1="204.80" x2="262.74" y2="206.60" stroke="#000" stroke-width="0.85" />
<line x1="264.63" y1="204.80" x2="264.63" y2="206.60" stroke="#000" stroke-width="0.85" />
<line x1="265.97" y1="204.80" x2="265.97" y2="206.60" stroke="#000" stroke-width="0.85" />
<line x1="267.01" y1="204.80" x2="267.01" y2="206.60" stroke="#000" stroke-width="0.85" />
<line x1="267.87" y1="204.80" x2="267.87" y2="206.60" stroke="#000" stroke-width="0.85" />
<line x1="268.58" y1="204.80" x2="268.58" y2="206.60" stroke="#000" stroke-width="0.85" />
<line x1="269.21" y1="204.80" x2="269.21" y2="206.60" stroke="#000" stroke-width="0.85" />
<line x1="269.76" y1="204.80" x2="269.76" y2="206.60" stroke="#000" stroke-width="0.85" />
<line x1="270.25" y1="204.80" x2="270.25" y2="207.60" stroke="#000" stroke-width="1.0" />
<line x1="273.49" y1="204.80" x2="273.49" y2="206.60" stroke="#000" stroke-width="0.85" />
<line x1="275.38" y1="204.80" x2="275.38" y2="206.60" stroke="#000" stroke-width="0.85" />
<line x1="276.72" y1="204.80" x2="276.72" y2="206.60" stroke="#000" stroke-width="0.85" />
<line x1="277.76" y1="204.80" x2="277.76" y2="206.60" stroke="#000" stroke-width="0.85" />
<line x1="278.62" y1="204.80" x2="278.62" y2="206.60" stroke="#000" stroke-width="0.85" />
<line x1="279.33" y1="204.80" x2="279.33" y2="206.60" stroke="#000" stroke-width="0.85" />
<line x1="279.96" y1="204.80" x2="279.96" y2="206.60" stroke="#000" stroke-width="0.85" />
<line x1="280.51" y1="204.80" x2="280.51" y2="206.60" stroke="#000" stroke-width="0.85" />
<line x1="281.00" y1="204.80" x2="281.00" y2="207.60" stroke="#000" stroke-width="1.0" />
<line x1="284.24" y1="204.80" x2="284.24" y2="206.60" stroke="#000" stroke-width="0.85" />
<line x1="286.13" y1="204.80" x2="286.13" y2="206.60" stroke="#000" stroke-width="0.85" />
<line x1="287.47" y1="204.80" x2="287.47" y2="206.60" stroke="#000" stroke-width="0.85" />
<line x1="288.51" y1="204.80" x2="288.51" y2="206.60" stroke="#000" stroke-width="0.85" />
<line x1="289.37" y1="204.80" x2="289.37" y2="206.60" stroke="#000" stroke-width="0.85" />
<line x1="290.08" y1="204.80" x2="290.08" y2="206.60" stroke="#000" stroke-width="0.85" />
<line x1="290.71" y1="204.80" x2="290.71" y2="206.60" stroke="#000" stroke-width="0.85" />
<line x1="291.26" y1="204.80" x2="291.26" y2="206.60" stroke="#000" stroke-width="0.85" />
<line x1="291.75" y1="204.80" x2="291.75" y2="207.60" stroke="#000" stroke-width="1.0" />
<line x1="294.99" y1="204.80" x2="294.99" y2="206.60" stroke="#000" stroke-width="0.85" />
<line x1="296.88" y1="204.80" x2="296.88" y2="206.60" stroke="#000" stroke-width="0.85" />
<line x1="298.22" y1="204.80" x2="298.22" y2="206.60" stroke="#000" stroke-width="0.85" />
<line x1="299.26" y1="204.80" x2="299.26" y2="206.60" stroke="#000" stroke-width="0.85" />
<line x1="300.12" y1="204.80" x2="300.12" y2="206.60" stroke="#000" stroke-width="0.85" />
<line x1="300.83" y1="204.80" x2="300.83" y2="206.60" stroke="#000" stroke-width="0.85" />
<line x1="301.46" y1="204.80" x2="301.46" y2="206.60" stroke="#000" stroke-width="0.85" />
<line x1="302.01" y1="204.80" x2="302.01" y2="206.60" stroke="#000" stroke-width="0.85" />
<line x1="302.50" y1="204.80" x2="302.50" y2="207.60" stroke="#000" stroke-width="1.0" />
<rect x="310.40" y="27.80" width="3.80" height="3.80" fill="#2a4a86" />
<text x="317.00" y="32.40" font-size="7.2" fill="#222" stroke="#222" text-anchor="start"  style="stroke-width:0.18px">mTEC<tspan dx="0.6" dy="-2.6" font-size="4.6" style="stroke-width:0.1px">hi</tspan></text>
<rect x="310.40" y="38.30" width="3.80" height="3.80" fill="#b00c30" />
<text x="317.00" y="42.90" font-size="7.2" fill="#222" stroke="#222" text-anchor="start"  style="stroke-width:0.18px">mTEC<tspan dx="0.6" dy="-2.6" font-size="4.6" style="stroke-width:0.1px">lo</tspan></text>
<rect x="310.40" y="48.80" width="3.80" height="3.80" fill="#5aa048" />
<text x="317.00" y="53.40" font-size="7.2" fill="#222" stroke="#222" text-anchor="start"  style="stroke-width:0.18px">cTEC</text>
<rect x="310.40" y="59.30" width="3.80" height="3.80" fill="#cbcbd2" />
<text x="317.00" y="63.90" font-size="7.2" fill="#222" stroke="#222" text-anchor="start"  style="stroke-width:0.18px">FMO</text>
<rect x="310.40" y="95.50" width="3.80" height="3.80" fill="#2a4a86" />
<text x="317.00" y="100.10" font-size="7.2" fill="#222" stroke="#222" text-anchor="start"  style="stroke-width:0.18px">mTEC<tspan dx="0.6" dy="-2.6" font-size="4.6" style="stroke-width:0.1px">hi</tspan></text>
<rect x="310.40" y="106.00" width="3.80" height="3.80" fill="#b00c30" />
<text x="317.00" y="110.60" font-size="7.2" fill="#222" stroke="#222" text-anchor="start"  style="stroke-width:0.18px">mTEC<tspan dx="0.6" dy="-2.6" font-size="4.6" style="stroke-width:0.1px">lo</tspan></text>
<rect x="310.40" y="116.50" width="3.80" height="3.80" fill="#5aa048" />
<text x="317.00" y="121.10" font-size="7.2" fill="#222" stroke="#222" text-anchor="start"  style="stroke-width:0.18px">cTEC</text>
<rect x="310.40" y="127.00" width="3.80" height="3.80" fill="#cbcbd2" />
<text x="317.00" y="131.60" font-size="7.2" fill="#222" stroke="#222" text-anchor="start"  style="stroke-width:0.18px">FMO</text>
<rect x="310.40" y="165.30" width="3.80" height="3.80" fill="#2a4a86" />
<text x="317.00" y="169.90" font-size="7.2" fill="#222" stroke="#222" text-anchor="start"  style="stroke-width:0.18px">mTEC<tspan dx="0.6" dy="-2.6" font-size="4.6" style="stroke-width:0.1px">hi</tspan></text>
<rect x="310.40" y="175.80" width="3.80" height="3.80" fill="#b00c30" />
<text x="317.00" y="180.40" font-size="7.2" fill="#222" stroke="#222" text-anchor="start"  style="stroke-width:0.18px">mTEC<tspan dx="0.6" dy="-2.6" font-size="4.6" style="stroke-width:0.1px">lo</tspan></text>
<rect x="310.40" y="186.30" width="3.80" height="3.80" fill="#5aa048" />
<text x="317.00" y="190.90" font-size="7.2" fill="#222" stroke="#222" text-anchor="start"  style="stroke-width:0.18px">cTEC</text>
<rect x="310.40" y="196.80" width="3.80" height="3.80" fill="#cbcbd2" />
<text x="317.00" y="201.40" font-size="7.2" fill="#222" stroke="#222" text-anchor="start"  style="stroke-width:0.18px">FMO</text>
<text x="357.10" y="18.30" font-size="12" fill="#000" stroke="#000" text-anchor="start" font-weight="bold" style="stroke-width:0.3px">C</text>
<line x1="376.20" y1="22.90" x2="376.20" y2="73.00" stroke="#111" stroke-width="1.2" />
<path d="M373.50,24.10 L376.20,18.90 L378.90,24.10 Z" fill="#111"/>
<line x1="376.20" y1="150.60" x2="376.20" y2="214.30" stroke="#111" stroke-width="1.2" />
<line x1="375.60" y1="214.30" x2="414.50" y2="214.30" stroke="#111" stroke-width="1.2" />
<path d="M413.30,211.60 L418.50,214.30 L413.30,217.00 Z" fill="#111"/>
<text x="0" y="0" font-size="9.5" fill="#1a1a1a" stroke="#1a1a1a" text-anchor="middle" textLength="65.5" lengthAdjust="spacingAndGlyphs" transform="translate(379.40,111.2) rotate(-90)">Percentage of Max</text>
<line x1="380.50" y1="75.80" x2="409.00" y2="75.80" stroke="#111" stroke-width="1.2" />
<path d="M407.80,73.10 L413.00,75.80 L407.80,78.50 Z" fill="#111"/>
<line x1="381.00" y1="143.60" x2="414.50" y2="143.60" stroke="#111" stroke-width="1.2" />
<path d="M413.30,140.90 L418.50,143.60 L413.30,146.30 Z" fill="#111"/>
<text x="418.00" y="79.30" font-size="8.8" fill="#1a1a1a" stroke="#1a1a1a" text-anchor="start" textLength="21.5" lengthAdjust="spacingAndGlyphs" style="stroke-width:0.3px">BCL-2</text>
<text x="420.50" y="147.00" font-size="8.8" fill="#1a1a1a" stroke="#1a1a1a" text-anchor="start" textLength="25" lengthAdjust="spacingAndGlyphs" style="stroke-width:0.3px">BCL-XL</text>
<text x="420.50" y="217.80" font-size="8.8" fill="#1a1a1a" stroke="#1a1a1a" text-anchor="start" textLength="22" lengthAdjust="spacingAndGlyphs" style="stroke-width:0.3px">MCL-1</text>
<clipPath id="cc1"><rect x="386.50" y="20.90" width="46.00" height="46.20"/></clipPath>
<g clip-path="url(#cc1)">
<path d="M387.50,66.20 L388.50,60.00 L390.00,50.00 L391.50,40.00 L393.00,31.00 L394.00,28.00 L395.20,31.00 L396.50,40.00 L398.00,52.00 L399.50,60.00 L401.00,66.20 Z" fill="#cbcbd2" stroke="#cbcbd2" stroke-width="0.3" stroke-linejoin="round" />
<path d="M387.00,28.53 L387.60,29.13 L388.20,30.48 L388.80,35.84 L389.40,36.91 L390.00,40.09 L390.60,42.34 L391.20,44.15 L391.80,47.38 L392.40,48.55 L393.00,50.86 L393.60,51.74 L394.20,53.04 L394.80,50.86 L395.40,47.93 L396.00,46.70 L396.60,47.88 L397.20,45.18 L397.80,46.61 L398.40,44.98 L399.00,41.26 L399.60,41.82 L400.20,36.54 L400.80,36.95 L401.40,33.85 L402.00,28.15 L402.60,26.90 L403.20,25.12 L403.80,21.48 L404.40,23.51 L405.00,22.39 L405.60,27.14 L406.20,29.91 L406.80,35.57 L407.40,37.23 L408.00,44.28 L408.60,50.87 L409.20,55.63 L409.80,56.82 L410.40,61.89 L411.00,62.93 L411.60,62.79 L412.20,63.66 L412.80,65.09 L413.40,65.45 L414.00,66.30 L414.60,66.20 L415.20,66.14 L415.80,65.92 L416.40,65.98 L417.00,66.18 L417.60,66.34 L418.20,66.16 L418.80,66.35 L419.40,66.22 L420.00,66.43 L420.60,66.29 L421.20,66.09 L421.80,65.99 L422.40,65.94 L423.00,65.93 L423.60,66.42 L424.20,66.42 L424.80,66.35 L425.40,65.97 L426.00,66.30 L426.60,65.98 L427.20,66.43 L427.80,66.29 L428.40,66.35 L429.00,66.26 L429.60,66.15 L430.20,66.41 L430.80,66.47 L431.40,66.05 L432.00,66.16" fill="none" stroke="#2a4a86" stroke-width="1.15" stroke-linejoin="round" />
<path d="M387.00,66.26 L387.60,56.43 L388.20,51.02 L388.80,45.87 L389.40,43.55 L390.00,40.18 L390.60,37.66 L391.20,32.54 L391.80,30.71 L392.40,27.11 L393.00,25.34 L393.60,24.57 L394.20,22.29 L394.80,22.82 L395.40,25.10 L396.00,27.80 L396.60,31.19 L397.20,38.26 L397.80,44.89 L398.40,48.58 L399.00,54.57 L399.60,57.49 L400.20,58.48 L400.80,59.48 L401.40,62.69 L402.00,62.34 L402.60,62.78 L403.20,63.65 L403.80,65.04 L404.40,65.20 L405.00,65.73 L405.60,66.05 L406.20,66.22 L406.80,66.40 L407.40,66.15 L408.00,66.22 L408.60,66.34 L409.20,66.25 L409.80,66.36 L410.40,66.23 L411.00,66.29 L411.60,66.00 L412.20,66.08 L412.80,66.11 L413.40,66.02 L414.00,66.08 L414.60,66.03 L415.20,66.10 L415.80,66.26 L416.40,66.14 L417.00,66.14 L417.60,66.07 L418.20,66.10 L418.80,66.39 L419.40,66.26 L420.00,66.25 L420.60,66.06 L421.20,66.30 L421.80,66.05 L422.40,66.15 L423.00,66.41 L423.60,66.26 L424.20,66.22 L424.80,66.28 L425.40,66.35 L426.00,66.32 L426.60,66.08 L427.20,66.00 L427.80,66.12 L428.40,66.10 L429.00,66.08 L429.60,66.39 L430.20,66.36 L430.80,66.12 L431.40,66.27 L432.00,66.15" fill="none" stroke="#b00c30" stroke-width="1.15" stroke-linejoin="round" />
</g>
<line x1="386.50" y1="28.90" x2="386.50" y2="67.10" stroke="#b00c30" stroke-width="1.3" />
<rect x="386.50" y="20.90" width="46.00" height="46.20" fill="none" stroke="#000" stroke-width="1.9"/>
<line x1="383.30" y1="67.10" x2="386.50" y2="67.10" stroke="#000" stroke-width="1.0" />
<line x1="384.50" y1="65.25" x2="386.50" y2="65.25" stroke="#000" stroke-width="0.8" />
<line x1="384.50" y1="63.40" x2="386.50" y2="63.40" stroke="#000" stroke-width="0.8" />
<line x1="384.50" y1="61.56" x2="386.50" y2="61.56" stroke="#000" stroke-width="0.8" />
<line x1="384.50" y1="59.71" x2="386.50" y2="59.71" stroke="#000" stroke-width="0.8" />
<line x1="383.30" y1="57.86" x2="386.50" y2="57.86" stroke="#000" stroke-width="1.0" />
<line x1="384.50" y1="56.01" x2="386.50" y2="56.01" stroke="#000" stroke-width="0.8" />
<line x1="384.50" y1="54.16" x2="386.50" y2="54.16" stroke="#000" stroke-width="0.8" />
<line x1="384.50" y1="52.32" x2="386.50" y2="52.32" stroke="#000" stroke-width="0.8" />
<line x1="384.50" y1="50.47" x2="386.50" y2="50.47" stroke="#000" stroke-width="0.8" />
<line x1="383.30" y1="48.62" x2="386.50" y2="48.62" stroke="#000" stroke-width="1.0" />
<line x1="384.50" y1="46.77" x2="386.50" y2="46.77" stroke="#000" stroke-width="0.8" />
<line x1="384.50" y1="44.92" x2="386.50" y2="44.92" stroke="#000" stroke-width="0.8" />
<line x1="384.50" y1="43.08" x2="386.50" y2="43.08" stroke="#000" stroke-width="0.8" />
<line x1="384.50" y1="41.23" x2="386.50" y2="41.23" stroke="#000" stroke-width="0.8" />
<line x1="383.30" y1="39.38" x2="386.50" y2="39.38" stroke="#000" stroke-width="1.0" />
<line x1="384.50" y1="37.53" x2="386.50" y2="37.53" stroke="#000" stroke-width="0.8" />
<line x1="384.50" y1="35.68" x2="386.50" y2="35.68" stroke="#000" stroke-width="0.8" />
<line x1="384.50" y1="33.84" x2="386.50" y2="33.84" stroke="#000" stroke-width="0.8" />
<line x1="384.50" y1="31.99" x2="386.50" y2="31.99" stroke="#000" stroke-width="0.8" />
<line x1="383.30" y1="30.14" x2="386.50" y2="30.14" stroke="#000" stroke-width="1.0" />
<line x1="384.50" y1="28.29" x2="386.50" y2="28.29" stroke="#000" stroke-width="0.8" />
<line x1="384.50" y1="26.44" x2="386.50" y2="26.44" stroke="#000" stroke-width="0.8" />
<line x1="384.50" y1="24.60" x2="386.50" y2="24.60" stroke="#000" stroke-width="0.8" />
<line x1="384.50" y1="22.75" x2="386.50" y2="22.75" stroke="#000" stroke-width="0.8" />
<line x1="383.30" y1="20.90" x2="386.50" y2="20.90" stroke="#000" stroke-width="1.0" />
<line x1="388.00" y1="67.10" x2="388.00" y2="69.90" stroke="#000" stroke-width="1.0" />
<line x1="391.24" y1="67.10" x2="391.24" y2="68.90" stroke="#000" stroke-width="0.85" />
<line x1="393.13" y1="67.10" x2="393.13" y2="68.90" stroke="#000" stroke-width="0.85" />
<line x1="394.47" y1="67.10" x2="394.47" y2="68.90" stroke="#000" stroke-width="0.85" />
<line x1="395.51" y1="67.10" x2="395.51" y2="68.90" stroke="#000" stroke-width="0.85" />
<line x1="396.37" y1="67.10" x2="396.37" y2="68.90" stroke="#000" stroke-width="0.85" />
<line x1="397.08" y1="67.10" x2="397.08" y2="68.90" stroke="#000" stroke-width="0.85" />
<line x1="397.71" y1="67.10" x2="397.71" y2="68.90" stroke="#000" stroke-width="0.85" />
<line x1="398.26" y1="67.10" x2="398.26" y2="68.90" stroke="#000" stroke-width="0.85" />
<line x1="398.75" y1="67.10" x2="398.75" y2="69.90" stroke="#000" stroke-width="1.0" />
<line x1="401.99" y1="67.10" x2="401.99" y2="68.90" stroke="#000" stroke-width="0.85" />
<line x1="403.88" y1="67.10" x2="403.88" y2="68.90" stroke="#000" stroke-width="0.85" />
<line x1="405.22" y1="67.10" x2="405.22" y2="68.90" stroke="#000" stroke-width="0.85" />
<line x1="406.26" y1="67.10" x2="406.26" y2="68.90" stroke="#000" stroke-width="0.85" />
<line x1="407.12" y1="67.10" x2="407.12" y2="68.90" stroke="#000" stroke-width="0.85" />
<line x1="407.83" y1="67.10" x2="407.83" y2="68.90" stroke="#000" stroke-width="0.85" />
<line x1="408.46" y1="67.10" x2="408.46" y2="68.90" stroke="#000" stroke-width="0.85" />
<line x1="409.01" y1="67.10" x2="409.01" y2="68.90" stroke="#000" stroke-width="0.85" />
<line x1="409.50" y1="67.10" x2="409.50" y2="69.90" stroke="#000" stroke-width="1.0" />
<line x1="412.74" y1="67.10" x2="412.74" y2="68.90" stroke="#000" stroke-width="0.85" />
<line x1="414.63" y1="67.10" x2="414.63" y2="68.90" stroke="#000" stroke-width="0.85" />
<line x1="415.97" y1="67.10" x2="415.97" y2="68.90" stroke="#000" stroke-width="0.85" />
<line x1="417.01" y1="67.10" x2="417.01" y2="68.90" stroke="#000" stroke-width="0.85" />
<line x1="417.87" y1="67.10" x2="417.87" y2="68.90" stroke="#000" stroke-width="0.85" />
<line x1="418.58" y1="67.10" x2="418.58" y2="68.90" stroke="#000" stroke-width="0.85" />
<line x1="419.21" y1="67.10" x2="419.21" y2="68.90" stroke="#000" stroke-width="0.85" />
<line x1="419.76" y1="67.10" x2="419.76" y2="68.90" stroke="#000" stroke-width="0.85" />
<line x1="420.25" y1="67.10" x2="420.25" y2="69.90" stroke="#000" stroke-width="1.0" />
<line x1="423.49" y1="67.10" x2="423.49" y2="68.90" stroke="#000" stroke-width="0.85" />
<line x1="425.38" y1="67.10" x2="425.38" y2="68.90" stroke="#000" stroke-width="0.85" />
<line x1="426.72" y1="67.10" x2="426.72" y2="68.90" stroke="#000" stroke-width="0.85" />
<line x1="427.76" y1="67.10" x2="427.76" y2="68.90" stroke="#000" stroke-width="0.85" />
<line x1="428.62" y1="67.10" x2="428.62" y2="68.90" stroke="#000" stroke-width="0.85" />
<line x1="429.33" y1="67.10" x2="429.33" y2="68.90" stroke="#000" stroke-width="0.85" />
<line x1="429.96" y1="67.10" x2="429.96" y2="68.90" stroke="#000" stroke-width="0.85" />
<line x1="430.51" y1="67.10" x2="430.51" y2="68.90" stroke="#000" stroke-width="0.85" />
<line x1="431.00" y1="67.10" x2="431.00" y2="69.90" stroke="#000" stroke-width="1.0" />
<clipPath id="cc2"><rect x="386.50" y="88.50" width="46.00" height="45.30"/></clipPath>
<g clip-path="url(#cc2)">
<rect x="389.30" y="88.50" width="3.90" height="45.30" fill="#cbcbd2" />
<path d="M387.00,132.70 L387.60,132.85 L388.20,132.41 L388.80,132.43 L389.40,131.68 L390.00,130.61 L390.60,128.79 L391.20,127.10 L391.80,123.02 L392.40,121.51 L393.00,118.63 L393.60,116.01 L394.20,111.14 L394.80,107.64 L395.40,102.51 L396.00,98.57 L396.60,97.51 L397.20,95.38 L397.80,92.26 L398.40,90.36 L399.00,90.84 L399.60,92.11 L400.20,94.98 L400.80,98.08 L401.40,102.22 L402.00,107.22 L402.60,110.85 L403.20,114.10 L403.80,118.34 L404.40,124.12 L405.00,126.59 L405.60,127.14 L406.20,129.59 L406.80,130.12 L407.40,130.42 L408.00,131.79 L408.60,132.08 L409.20,132.69 L409.80,132.63 L410.40,132.42 L411.00,132.79 L411.60,132.96 L412.20,133.07 L412.80,132.83 L413.40,132.91 L414.00,132.99 L414.60,132.76 L415.20,133.05 L415.80,133.02 L416.40,132.71 L417.00,132.94 L417.60,132.84 L418.20,132.76 L418.80,132.95 L419.40,133.10 L420.00,132.92 L420.60,132.73 L421.20,132.90 L421.80,133.02 L422.40,133.10 L423.00,132.99 L423.60,132.70 L424.20,133.10 L424.80,132.94 L425.40,132.72 L426.00,132.74 L426.60,132.72 L427.20,132.97 L427.80,132.75 L428.40,133.03 L429.00,132.73 L429.60,132.92 L430.20,132.88 L430.80,132.70 L431.40,132.69 L432.00,133.07" fill="none" stroke="#b00c30" stroke-width="1.15" stroke-linejoin="round" />
<path d="M387.00,132.85 L387.60,132.89 L388.20,133.04 L388.80,132.60 L389.40,132.59 L390.00,132.43 L390.60,132.44 L391.20,132.33 L391.80,132.38 L392.40,132.46 L393.00,132.64 L393.60,132.20 L394.20,131.67 L394.80,131.47 L395.40,131.43 L396.00,130.43 L396.60,129.48 L397.20,130.41 L397.80,129.25 L398.40,126.85 L399.00,125.48 L399.60,124.07 L400.20,124.39 L400.80,118.52 L401.40,116.12 L402.00,112.36 L402.60,104.05 L403.20,100.41 L403.80,97.42 L404.40,96.00 L405.00,91.52 L405.60,90.13 L406.20,91.59 L406.80,92.38 L407.40,97.63 L408.00,101.14 L408.60,102.52 L409.20,103.84 L409.80,105.45 L410.40,104.52 L411.00,102.22 L411.60,99.18 L412.20,99.74 L412.80,97.77 L413.40,99.84 L414.00,102.55 L414.60,105.64 L415.20,110.64 L415.80,116.06 L416.40,119.16 L417.00,121.45 L417.60,125.35 L418.20,127.58 L418.80,126.99 L419.40,128.91 L420.00,130.61 L420.60,131.02 L421.20,132.36 L421.80,132.80 L422.40,132.92 L423.00,133.17 L423.60,132.82 L424.20,132.74 L424.80,132.69 L425.40,132.81 L426.00,133.08 L426.60,132.96 L427.20,132.66 L427.80,132.86 L428.40,132.66 L429.00,132.97 L429.60,132.70 L430.20,132.73 L430.80,132.98 L431.40,133.08 L432.00,132.96" fill="none" stroke="#2a4a86" stroke-width="1.15" stroke-linejoin="round" />
</g>
<rect x="386.50" y="88.50" width="46.00" height="45.30" fill="none" stroke="#000" stroke-width="1.9"/>
<line x1="383.30" y1="133.80" x2="386.50" y2="133.80" stroke="#000" stroke-width="1.0" />
<line x1="384.50" y1="131.99" x2="386.50" y2="131.99" stroke="#000" stroke-width="0.8" />
<line x1="384.50" y1="130.18" x2="386.50" y2="130.18" stroke="#000" stroke-width="0.8" />
<line x1="384.50" y1="128.36" x2="386.50" y2="128.36" stroke="#000" stroke-width="0.8" />
<line x1="384.50" y1="126.55" x2="386.50" y2="126.55" stroke="#000" stroke-width="0.8" />
<line x1="383.30" y1="124.74" x2="386.50" y2="124.74" stroke="#000" stroke-width="1.0" />
<line x1="384.50" y1="122.93" x2="386.50" y2="122.93" stroke="#000" stroke-width="0.8" />
<line x1="384.50" y1="121.12" x2="386.50" y2="121.12" stroke="#000" stroke-width="0.8" />
<line x1="384.50" y1="119.30" x2="386.50" y2="119.30" stroke="#000" stroke-width="0.8" />
<line x1="384.50" y1="117.49" x2="386.50" y2="117.49" stroke="#000" stroke-width="0.8" />
<line x1="383.30" y1="115.68" x2="386.50" y2="115.68" stroke="#000" stroke-width="1.0" />
<line x1="384.50" y1="113.87" x2="386.50" y2="113.87" stroke="#000" stroke-width="0.8" />
<line x1="384.50" y1="112.06" x2="386.50" y2="112.06" stroke="#000" stroke-width="0.8" />
<line x1="384.50" y1="110.24" x2="386.50" y2="110.24" stroke="#000" stroke-width="0.8" />
<line x1="384.50" y1="108.43" x2="386.50" y2="108.43" stroke="#000" stroke-width="0.8" />
<line x1="383.30" y1="106.62" x2="386.50" y2="106.62" stroke="#000" stroke-width="1.0" />
<line x1="384.50" y1="104.81" x2="386.50" y2="104.81" stroke="#000" stroke-width="0.8" />
<line x1="384.50" y1="103.00" x2="386.50" y2="103.00" stroke="#000" stroke-width="0.8" />
<line x1="384.50" y1="101.18" x2="386.50" y2="101.18" stroke="#000" stroke-width="0.8" />
<line x1="384.50" y1="99.37" x2="386.50" y2="99.37" stroke="#000" stroke-width="0.8" />
<line x1="383.30" y1="97.56" x2="386.50" y2="97.56" stroke="#000" stroke-width="1.0" />
<line x1="384.50" y1="95.75" x2="386.50" y2="95.75" stroke="#000" stroke-width="0.8" />
<line x1="384.50" y1="93.94" x2="386.50" y2="93.94" stroke="#000" stroke-width="0.8" />
<line x1="384.50" y1="92.12" x2="386.50" y2="92.12" stroke="#000" stroke-width="0.8" />
<line x1="384.50" y1="90.31" x2="386.50" y2="90.31" stroke="#000" stroke-width="0.8" />
<line x1="383.30" y1="88.50" x2="386.50" y2="88.50" stroke="#000" stroke-width="1.0" />
<line x1="388.00" y1="133.80" x2="388.00" y2="136.60" stroke="#000" stroke-width="1.0" />
<line x1="391.24" y1="133.80" x2="391.24" y2="135.60" stroke="#000" stroke-width="0.85" />
<line x1="393.13" y1="133.80" x2="393.13" y2="135.60" stroke="#000" stroke-width="0.85" />
<line x1="394.47" y1="133.80" x2="394.47" y2="135.60" stroke="#000" stroke-width="0.85" />
<line x1="395.51" y1="133.80" x2="395.51" y2="135.60" stroke="#000" stroke-width="0.85" />
<line x1="396.37" y1="133.80" x2="396.37" y2="135.60" stroke="#000" stroke-width="0.85" />
<line x1="397.08" y1="133.80" x2="397.08" y2="135.60" stroke="#000" stroke-width="0.85" />
<line x1="397.71" y1="133.80" x2="397.71" y2="135.60" stroke="#000" stroke-width="0.85" />
<line x1="398.26" y1="133.80" x2="398.26" y2="135.60" stroke="#000" stroke-width="0.85" />
<line x1="398.75" y1="133.80" x2="398.75" y2="136.60" stroke="#000" stroke-width="1.0" />
<line x1="401.99" y1="133.80" x2="401.99" y2="135.60" stroke="#000" stroke-width="0.85" />
<line x1="403.88" y1="133.80" x2="403.88" y2="135.60" stroke="#000" stroke-width="0.85" />
<line x1="405.22" y1="133.80" x2="405.22" y2="135.60" stroke="#000" stroke-width="0.85" />
<line x1="406.26" y1="133.80" x2="406.26" y2="135.60" stroke="#000" stroke-width="0.85" />
<line x1="407.12" y1="133.80" x2="407.12" y2="135.60" stroke="#000" stroke-width="0.85" />
<line x1="407.83" y1="133.80" x2="407.83" y2="135.60" stroke="#000" stroke-width="0.85" />
<line x1="408.46" y1="133.80" x2="408.46" y2="135.60" stroke="#000" stroke-width="0.85" />
<line x1="409.01" y1="133.80" x2="409.01" y2="135.60" stroke="#000" stroke-width="0.85" />
<line x1="409.50" y1="133.80" x2="409.50" y2="136.60" stroke="#000" stroke-width="1.0" />
<line x1="412.74" y1="133.80" x2="412.74" y2="135.60" stroke="#000" stroke-width="0.85" />
<line x1="414.63" y1="133.80" x2="414.63" y2="135.60" stroke="#000" stroke-width="0.85" />
<line x1="415.97" y1="133.80" x2="415.97" y2="135.60" stroke="#000" stroke-width="0.85" />
<line x1="417.01" y1="133.80" x2="417.01" y2="135.60" stroke="#000" stroke-width="0.85" />
<line x1="417.87" y1="133.80" x2="417.87" y2="135.60" stroke="#000" stroke-width="0.85" />
<line x1="418.58" y1="133.80" x2="418.58" y2="135.60" stroke="#000" stroke-width="0.85" />
<line x1="419.21" y1="133.80" x2="419.21" y2="135.60" stroke="#000" stroke-width="0.85" />
<line x1="419.76" y1="133.80" x2="419.76" y2="135.60" stroke="#000" stroke-width="0.85" />
<line x1="420.25" y1="133.80" x2="420.25" y2="136.60" stroke="#000" stroke-width="1.0" />
<line x1="423.49" y1="133.80" x2="423.49" y2="135.60" stroke="#000" stroke-width="0.85" />
<line x1="425.38" y1="133.80" x2="425.38" y2="135.60" stroke="#000" stroke-width="0.85" />
<line x1="426.72" y1="133.80" x2="426.72" y2="135.60" stroke="#000" stroke-width="0.85" />
<line x1="427.76" y1="133.80" x2="427.76" y2="135.60" stroke="#000" stroke-width="0.85" />
<line x1="428.62" y1="133.80" x2="428.62" y2="135.60" stroke="#000" stroke-width="0.85" />
<line x1="429.33" y1="133.80" x2="429.33" y2="135.60" stroke="#000" stroke-width="0.85" />
<line x1="429.96" y1="133.80" x2="429.96" y2="135.60" stroke="#000" stroke-width="0.85" />
<line x1="430.51" y1="133.80" x2="430.51" y2="135.60" stroke="#000" stroke-width="0.85" />
<line x1="431.00" y1="133.80" x2="431.00" y2="136.60" stroke="#000" stroke-width="1.0" />
<clipPath id="cc3"><rect x="386.50" y="157.60" width="46.00" height="46.60"/></clipPath>
<g clip-path="url(#cc3)">
<path d="M388.50,203.30 L389.50,180.00 L390.50,165.00 L391.50,160.00 L392.80,165.00 L394.00,178.00 L395.50,192.00 L397.00,200.00 L399.00,203.30 Z" fill="#d8d0d4" stroke="#d8d0d4" stroke-width="0.3" stroke-linejoin="round" />
<path d="M387.00,203.20 L387.60,201.91 L388.20,198.79 L388.80,194.67 L389.40,189.50 L390.00,183.93 L390.60,179.11 L391.20,173.43 L391.80,169.59 L392.40,166.43 L393.00,161.66 L393.60,161.27 L394.20,159.34 L394.80,162.50 L395.40,164.38 L396.00,167.07 L396.60,174.60 L397.20,181.43 L397.80,185.78 L398.40,192.24 L399.00,196.08 L399.60,199.16 L400.20,198.80 L400.80,200.25 L401.40,201.62 L402.00,202.21 L402.60,201.86 L403.20,202.27 L403.80,202.87 L404.40,202.77 L405.00,202.97 L405.60,203.37 L406.20,203.41 L406.80,203.37 L407.40,203.46 L408.00,203.40 L408.60,203.43 L409.20,203.36 L409.80,203.34 L410.40,203.11 L411.00,203.48 L411.60,203.48 L412.20,203.24 L412.80,203.35 L413.40,203.09 L414.00,203.30 L414.60,203.35 L415.20,203.21 L415.80,203.26 L416.40,203.44 L417.00,203.15 L417.60,203.28 L418.20,203.12 L418.80,203.25 L419.40,203.47 L420.00,203.35 L420.60,203.10 L421.20,203.45 L421.80,203.37 L422.40,203.31 L423.00,203.21 L423.60,203.21 L424.20,203.16 L424.80,203.35 L425.40,203.11 L426.00,203.49 L426.60,203.13 L427.20,203.35 L427.80,203.33 L428.40,203.24 L429.00,203.20 L429.60,203.27 L430.20,203.23 L430.80,203.50 L431.40,203.36 L432.00,203.31" fill="none" stroke="#b00c30" stroke-width="1.15" stroke-linejoin="round" />
<path d="M387.00,203.45 L387.60,203.24 L388.20,203.28 L388.80,203.37 L389.40,203.09 L390.00,203.18 L390.60,203.18 L391.20,203.31 L391.80,202.89 L392.40,202.87 L393.00,202.96 L393.60,203.17 L394.20,202.98 L394.80,201.94 L395.40,201.98 L396.00,201.03 L396.60,199.47 L397.20,197.29 L397.80,190.97 L398.40,187.20 L399.00,179.65 L399.60,172.23 L400.20,167.91 L400.80,162.58 L401.40,162.18 L402.00,161.36 L402.60,161.77 L403.20,166.31 L403.80,172.22 L404.40,180.10 L405.00,185.73 L405.60,191.91 L406.20,196.13 L406.80,198.82 L407.40,200.88 L408.00,202.20 L408.60,202.56 L409.20,203.23 L409.80,203.40 L410.40,203.19 L411.00,203.15 L411.60,203.20 L412.20,203.34 L412.80,203.38 L413.40,203.37 L414.00,203.14 L414.60,203.22 L415.20,203.15 L415.80,203.32 L416.40,203.25 L417.00,203.39 L417.60,203.33 L418.20,203.33 L418.80,203.18 L419.40,203.32 L420.00,203.14 L420.60,203.15 L421.20,203.44 L421.80,203.18 L422.40,203.11 L423.00,203.38 L423.60,203.18 L424.20,203.22 L424.80,203.33 L425.40,203.47 L426.00,203.12 L426.60,203.36 L427.20,203.12 L427.80,203.40 L428.40,203.25 L429.00,203.14 L429.60,203.26 L430.20,203.36 L430.80,203.16 L431.40,203.26 L432.00,203.41" fill="none" stroke="#5aa048" stroke-width="1.15" stroke-linejoin="round" />
<path d="M387.00,203.24 L387.60,203.25 L388.20,203.24 L388.80,203.17 L389.40,203.22 L390.00,203.14 L390.60,202.97 L391.20,203.11 L391.80,202.91 L392.40,202.92 L393.00,202.97 L393.60,203.26 L394.20,203.02 L394.80,203.03 L395.40,202.71 L396.00,201.97 L396.60,200.86 L397.20,197.83 L397.80,195.20 L398.40,190.48 L399.00,185.49 L399.60,176.62 L400.20,170.88 L400.80,166.36 L401.40,162.07 L402.00,160.82 L402.60,162.44 L403.20,163.34 L403.80,170.86 L404.40,177.45 L405.00,182.43 L405.60,189.22 L406.20,194.75 L406.80,197.59 L407.40,200.09 L408.00,201.44 L408.60,202.26 L409.20,202.87 L409.80,203.32 L410.40,203.43 L411.00,203.19 L411.60,203.39 L412.20,203.40 L412.80,203.34 L413.40,203.37 L414.00,203.22 L414.60,203.40 L415.20,203.20 L415.80,203.32 L416.40,203.21 L417.00,203.31 L417.60,203.13 L418.20,203.23 L418.80,203.41 L419.40,203.21 L420.00,203.39 L420.60,203.41 L421.20,203.34 L421.80,203.35 L422.40,203.19 L423.00,203.29 L423.60,203.47 L424.20,203.48 L424.80,203.32 L425.40,203.28 L426.00,203.48 L426.60,203.32 L427.20,203.42 L427.80,203.14 L428.40,203.21 L429.00,203.42 L429.60,203.32 L430.20,203.41 L430.80,203.28 L431.40,203.46 L432.00,203.12" fill="none" stroke="#1a5a60" stroke-width="1.15" stroke-linejoin="round" />
</g>
<rect x="386.50" y="157.60" width="46.00" height="46.60" fill="none" stroke="#000" stroke-width="1.9"/>
<line x1="383.30" y1="204.20" x2="386.50" y2="204.20" stroke="#000" stroke-width="1.0" />
<line x1="384.50" y1="202.34" x2="386.50" y2="202.34" stroke="#000" stroke-width="0.8" />
<line x1="384.50" y1="200.47" x2="386.50" y2="200.47" stroke="#000" stroke-width="0.8" />
<line x1="384.50" y1="198.61" x2="386.50" y2="198.61" stroke="#000" stroke-width="0.8" />
<line x1="384.50" y1="196.74" x2="386.50" y2="196.74" stroke="#000" stroke-width="0.8" />
<line x1="383.30" y1="194.88" x2="386.50" y2="194.88" stroke="#000" stroke-width="1.0" />
<line x1="384.50" y1="193.02" x2="386.50" y2="193.02" stroke="#000" stroke-width="0.8" />
<line x1="384.50" y1="191.15" x2="386.50" y2="191.15" stroke="#000" stroke-width="0.8" />
<line x1="384.50" y1="189.29" x2="386.50" y2="189.29" stroke="#000" stroke-width="0.8" />
<line x1="384.50" y1="187.42" x2="386.50" y2="187.42" stroke="#000" stroke-width="0.8" />
<line x1="383.30" y1="185.56" x2="386.50" y2="185.56" stroke="#000" stroke-width="1.0" />
<line x1="384.50" y1="183.70" x2="386.50" y2="183.70" stroke="#000" stroke-width="0.8" />
<line x1="384.50" y1="181.83" x2="386.50" y2="181.83" stroke="#000" stroke-width="0.8" />
<line x1="384.50" y1="179.97" x2="386.50" y2="179.97" stroke="#000" stroke-width="0.8" />
<line x1="384.50" y1="178.10" x2="386.50" y2="178.10" stroke="#000" stroke-width="0.8" />
<line x1="383.30" y1="176.24" x2="386.50" y2="176.24" stroke="#000" stroke-width="1.0" />
<line x1="384.50" y1="174.38" x2="386.50" y2="174.38" stroke="#000" stroke-width="0.8" />
<line x1="384.50" y1="172.51" x2="386.50" y2="172.51" stroke="#000" stroke-width="0.8" />
<line x1="384.50" y1="170.65" x2="386.50" y2="170.65" stroke="#000" stroke-width="0.8" />
<line x1="384.50" y1="168.78" x2="386.50" y2="168.78" stroke="#000" stroke-width="0.8" />
<line x1="383.30" y1="166.92" x2="386.50" y2="166.92" stroke="#000" stroke-width="1.0" />
<line x1="384.50" y1="165.06" x2="386.50" y2="165.06" stroke="#000" stroke-width="0.8" />
<line x1="384.50" y1="163.19" x2="386.50" y2="163.19" stroke="#000" stroke-width="0.8" />
<line x1="384.50" y1="161.33" x2="386.50" y2="161.33" stroke="#000" stroke-width="0.8" />
<line x1="384.50" y1="159.46" x2="386.50" y2="159.46" stroke="#000" stroke-width="0.8" />
<line x1="383.30" y1="157.60" x2="386.50" y2="157.60" stroke="#000" stroke-width="1.0" />
<line x1="388.00" y1="204.20" x2="388.00" y2="207.00" stroke="#000" stroke-width="1.0" />
<line x1="391.24" y1="204.20" x2="391.24" y2="206.00" stroke="#000" stroke-width="0.85" />
<line x1="393.13" y1="204.20" x2="393.13" y2="206.00" stroke="#000" stroke-width="0.85" />
<line x1="394.47" y1="204.20" x2="394.47" y2="206.00" stroke="#000" stroke-width="0.85" />
<line x1="395.51" y1="204.20" x2="395.51" y2="206.00" stroke="#000" stroke-width="0.85" />
<line x1="396.37" y1="204.20" x2="396.37" y2="206.00" stroke="#000" stroke-width="0.85" />
<line x1="397.08" y1="204.20" x2="397.08" y2="206.00" stroke="#000" stroke-width="0.85" />
<line x1="397.71" y1="204.20" x2="397.71" y2="206.00" stroke="#000" stroke-width="0.85" />
<line x1="398.26" y1="204.20" x2="398.26" y2="206.00" stroke="#000" stroke-width="0.85" />
<line x1="398.75" y1="204.20" x2="398.75" y2="207.00" stroke="#000" stroke-width="1.0" />
<line x1="401.99" y1="204.20" x2="401.99" y2="206.00" stroke="#000" stroke-width="0.85" />
<line x1="403.88" y1="204.20" x2="403.88" y2="206.00" stroke="#000" stroke-width="0.85" />
<line x1="405.22" y1="204.20" x2="405.22" y2="206.00" stroke="#000" stroke-width="0.85" />
<line x1="406.26" y1="204.20" x2="406.26" y2="206.00" stroke="#000" stroke-width="0.85" />
<line x1="407.12" y1="204.20" x2="407.12" y2="206.00" stroke="#000" stroke-width="0.85" />
<line x1="407.83" y1="204.20" x2="407.83" y2="206.00" stroke="#000" stroke-width="0.85" />
<line x1="408.46" y1="204.20" x2="408.46" y2="206.00" stroke="#000" stroke-width="0.85" />
<line x1="409.01" y1="204.20" x2="409.01" y2="206.00" stroke="#000" stroke-width="0.85" />
<line x1="409.50" y1="204.20" x2="409.50" y2="207.00" stroke="#000" stroke-width="1.0" />
<line x1="412.74" y1="204.20" x2="412.74" y2="206.00" stroke="#000" stroke-width="0.85" />
<line x1="414.63" y1="204.20" x2="414.63" y2="206.00" stroke="#000" stroke-width="0.85" />
<line x1="415.97" y1="204.20" x2="415.97" y2="206.00" stroke="#000" stroke-width="0.85" />
<line x1="417.01" y1="204.20" x2="417.01" y2="206.00" stroke="#000" stroke-width="0.85" />
<line x1="417.87" y1="204.20" x2="417.87" y2="206.00" stroke="#000" stroke-width="0.85" />
<line x1="418.58" y1="204.20" x2="418.58" y2="206.00" stroke="#000" stroke-width="0.85" />
<line x1="419.21" y1="204.20" x2="419.21" y2="206.00" stroke="#000" stroke-width="0.85" />
<line x1="419.76" y1="204.20" x2="419.76" y2="206.00" stroke="#000" stroke-width="0.85" />
<line x1="420.25" y1="204.20" x2="420.25" y2="207.00" stroke="#000" stroke-width="1.0" />
<line x1="423.49" y1="204.20" x2="423.49" y2="206.00" stroke="#000" stroke-width="0.85" />
<line x1="425.38" y1="204.20" x2="425.38" y2="206.00" stroke="#000" stroke-width="0.85" />
<line x1="426.72" y1="204.20" x2="426.72" y2="206.00" stroke="#000" stroke-width="0.85" />
<line x1="427.76" y1="204.20" x2="427.76" y2="206.00" stroke="#000" stroke-width="0.85" />
<line x1="428.62" y1="204.20" x2="428.62" y2="206.00" stroke="#000" stroke-width="0.85" />
<line x1="429.33" y1="204.20" x2="429.33" y2="206.00" stroke="#000" stroke-width="0.85" />
<line x1="429.96" y1="204.20" x2="429.96" y2="206.00" stroke="#000" stroke-width="0.85" />
<line x1="430.51" y1="204.20" x2="430.51" y2="206.00" stroke="#000" stroke-width="0.85" />
<line x1="431.00" y1="204.20" x2="431.00" y2="207.00" stroke="#000" stroke-width="1.0" />
<rect x="440.00" y="32.10" width="3.80" height="3.80" fill="#2a4a86" />
<text x="446.60" y="36.70" font-size="7.2" fill="#222" stroke="#222" text-anchor="start"  style="stroke-width:0.18px"><tspan font-style="italic">Bcl2</tspan><tspan dx="0.6" dy="-3" font-size="4.6" style="stroke-width:0.1px">lox/lox</tspan></text>
<rect x="440.00" y="43.10" width="3.80" height="3.80" fill="#b00c30" />
<text x="446.60" y="47.70" font-size="7.2" fill="#222" stroke="#222" text-anchor="start"  style="stroke-width:0.18px"><tspan font-style="italic">Bcl2</tspan><tspan dx="0.6" dy="-3" font-size="4.6" style="stroke-width:0.1px">ΔFoxn1</tspan></text>
<rect x="440.00" y="54.10" width="3.80" height="3.80" fill="#cbcbd2" />
<text x="446.60" y="58.70" font-size="7.2" fill="#222" stroke="#222" text-anchor="start"  style="stroke-width:0.18px">FMO</text>
<rect x="440.00" y="103.50" width="3.80" height="3.80" fill="#2a4a86" />
<text x="446.60" y="108.10" font-size="7.2" fill="#222" stroke="#222" text-anchor="start"  style="stroke-width:0.18px"><tspan font-style="italic">Bclx<tspan dy="2" font-size="4.6">L</tspan></tspan><tspan dx="0.6" dy="-5" font-size="4.6" style="stroke-width:0.1px">lox/lox</tspan></text>
<rect x="440.00" y="116.30" width="3.80" height="3.80" fill="#b00c30" />
<text x="446.60" y="120.90" font-size="7.2" fill="#222" stroke="#222" text-anchor="start"  style="stroke-width:0.18px"><tspan font-style="italic">Bclx<tspan dy="2" font-size="4.6">L</tspan></tspan><tspan dx="0.6" dy="-5" font-size="4.6" style="stroke-width:0.1px">ΔFoxn1</tspan></text>
<rect x="440.00" y="162.70" width="3.80" height="3.80" fill="#1a5a60" />
<text x="446.60" y="167.30" font-size="7.2" fill="#222" stroke="#222" text-anchor="start"  style="stroke-width:0.18px">Control</text>
<rect x="440.00" y="173.50" width="3.80" height="3.80" fill="#b00c30" />
<text x="446.60" y="178.10" font-size="7.2" fill="#222" stroke="#222" text-anchor="start"  style="stroke-width:0.18px"><tspan font-style="italic">Mcl1</tspan><tspan dx="0.6" dy="-3" font-size="4.6" style="stroke-width:0.1px">ΔFoxn1</tspan></text>
<rect x="440.00" y="184.30" width="3.80" height="3.80" fill="#5aa048" />
<text x="446.60" y="188.90" font-size="7.2" fill="#222" stroke="#222" text-anchor="start"  style="stroke-width:0.18px"><tspan font-style="italic">Foxn1</tspan><tspan dx="0.6" dy="-3" font-size="4.6" style="stroke-width:0.1px">cre/+</tspan><tspan dy="3" font-style="italic">Mcl1</tspan><tspan dx="0.6" dy="-3" font-size="4.6" style="stroke-width:0.1px">lox/+</tspan></text>
<rect x="440.00" y="195.10" width="3.80" height="3.80" fill="#cbcbd2" />
<text x="446.60" y="199.70" font-size="7.2" fill="#222" stroke="#222" text-anchor="start"  style="stroke-width:0.18px">FMO</text>
<text x="229.30" y="246.10" font-size="12" fill="#000" stroke="#000" text-anchor="start" font-weight="bold" style="stroke-width:0.3px">D</text>
<text x="275.20" y="253.60" font-size="7.9" fill="#1a1a1a" stroke="#1a1a1a" text-anchor="start"  style="font-style:italic;stroke-width:0.55px">WT</text>
<text x="322.70" y="253.20" font-size="7.6" fill="#1a1a1a" stroke="#1a1a1a" text-anchor="start"  style="font-style:italic;stroke-width:0.18px">Bcl2<tspan dx="1.0" dy="-3.8" font-size="5.3">ΔFoxn1</tspan></text>
<text x="379.20" y="253.20" font-size="7.6" fill="#1a1a1a" stroke="#1a1a1a" text-anchor="start"  style="font-style:italic;stroke-width:0.18px">Bclx<tspan dy="2" font-size="4.8">L</tspan><tspan dx="2.2" dy="-5.8" font-size="5.3">ΔFoxn1</tspan></text>
<text x="428.30" y="253.20" font-size="7.6" fill="#1a1a1a" stroke="#1a1a1a" text-anchor="start"  style="font-style:italic;stroke-width:0.55px">Mcl1<tspan dx="1.2" dy="-3.8" font-size="5.3" style="stroke-width:0.2px">ΔFoxn1</tspan></text>
<defs><linearGradient id="bg" x1="0" y1="0" x2="0" y2="1"><stop offset="0" stop-color="#98989a"/><stop offset="0.04" stop-color="#a8a8aa"/><stop offset="0.5" stop-color="#b0b0b2"/><stop offset="0.96" stop-color="#acacae"/><stop offset="1" stop-color="#8a8a8c"/></linearGradient><radialGradient id="thy" cx="0.55" cy="0.6" r="0.6"><stop offset="0" stop-color="#8a3c3a"/><stop offset="0.7" stop-color="#a04e44"/><stop offset="1" stop-color="#b87060"/></radialGradient><linearGradient id="thy2" x1="0" y1="0" x2="0" y2="1"><stop offset="0" stop-color="#bc8068"/><stop offset="0.4" stop-color="#a86250"/><stop offset="1" stop-color="#985048"/></linearGradient><radialGradient id="thy3" cx="0.45" cy="0.55" r="0.6"><stop offset="0" stop-color="#8a3c3c"/><stop offset="0.7" stop-color="#9a4a44"/><stop offset="1" stop-color="#b06658"/></radialGradient><linearGradient id="thy4" x1="0" y1="0" x2="0" y2="1"><stop offset="0" stop-color="#a05a50"/><stop offset="0.5" stop-color="#943c3c"/><stop offset="1" stop-color="#803030"/></linearGradient><filter id="soft" x="-10%" y="-10%" width="120%" height="120%"><feGaussianBlur stdDeviation="0.8"/></filter></defs>
<rect x="247.80" y="261.30" width="219.40" height="60.40" fill="url(#bg)" />
<rect x="247.8" y="262.60" width="219.4" height="0.9" fill="#909096" opacity="0.07"/>
<rect x="247.8" y="265.04" width="219.4" height="0.9" fill="#d0d0d4" opacity="0.09"/>
<rect x="247.8" y="267.29" width="219.4" height="0.9" fill="#909096" opacity="0.09"/>
<rect x="247.8" y="269.02" width="219.4" height="0.9" fill="#d0d0d4" opacity="0.06"/>
<rect x="247.8" y="272.05" width="219.4" height="0.9" fill="#909096" opacity="0.07"/>
<rect x="247.8" y="274.32" width="219.4" height="0.9" fill="#d0d0d4" opacity="0.04"/>
<rect x="247.8" y="276.28" width="219.4" height="0.9" fill="#909096" opacity="0.04"/>
<rect x="247.8" y="278.64" width="219.4" height="0.9" fill="#d0d0d4" opacity="0.06"/>
<rect x="247.8" y="280.51" width="219.4" height="0.9" fill="#909096" opacity="0.04"/>
<rect x="247.8" y="283.02" width="219.4" height="0.9" fill="#d0d0d4" opacity="0.08"/>
<rect x="247.8" y="285.71" width="219.4" height="0.9" fill="#909096" opacity="0.04"/>
<rect x="247.8" y="288.04" width="219.4" height="0.9" fill="#d0d0d4" opacity="0.04"/>
<rect x="247.8" y="290.19" width="219.4" height="0.9" fill="#909096" opacity="0.04"/>
<rect x="247.8" y="292.00" width="219.4" height="0.9" fill="#d0d0d4" opacity="0.08"/>
<rect x="247.8" y="294.47" width="219.4" height="0.9" fill="#909096" opacity="0.04"/>
<rect x="247.8" y="297.39" width="219.4" height="0.9" fill="#d0d0d4" opacity="0.08"/>
<rect x="247.8" y="299.13" width="219.4" height="0.9" fill="#909096" opacity="0.09"/>
<rect x="247.8" y="301.63" width="219.4" height="0.9" fill="#d0d0d4" opacity="0.07"/>
<rect x="247.8" y="303.66" width="219.4" height="0.9" fill="#909096" opacity="0.09"/>
<rect x="247.8" y="306.35" width="219.4" height="0.9" fill="#d0d0d4" opacity="0.09"/>
<rect x="247.8" y="308.81" width="219.4" height="0.9" fill="#909096" opacity="0.05"/>
<rect x="247.8" y="310.69" width="219.4" height="0.9" fill="#d0d0d4" opacity="0.04"/>
<rect x="247.8" y="312.82" width="219.4" height="0.9" fill="#909096" opacity="0.03"/>
<rect x="247.8" y="315.24" width="219.4" height="0.9" fill="#d0d0d4" opacity="0.07"/>
<rect x="247.8" y="317.30" width="219.4" height="0.9" fill="#909096" opacity="0.07"/>
<rect x="247.8" y="319.87" width="219.4" height="0.9" fill="#d0d0d4" opacity="0.05"/>
<defs><filter id="mot" x="-20%" y="-20%" width="140%" height="140%"><feGaussianBlur stdDeviation="1.1"/></filter><clipPath id="t1"><path d="M275,275 C277,271 282,270.5 285,272 C288,270.5 292,271.5 293,275 C295,280 296,285 297,288 C300,292 303,296 303.5,300 C304,306 301,311 296,312 C288,312.8 276,312.8 268,311.5 C264.5,309 264,303 265,298 C266,292 269,287 271,283 C272.5,280 273.5,277 275,275 Z"/></clipPath><clipPath id="t2"><path d="M331,271 C336,269 342,269.5 345,268.5 C348,267.5 350,269 350.5,272 C351,278 350.5,283 351.5,287 C353.5,290 356.5,294 357,300 C357.5,305 355.5,309.5 352,311 C344,311.8 335,311.8 328,311 C325,308.5 324.8,304 325.2,299 C326,293 327.5,287 328,281 C328.5,276 329,273 331,271 Z"/></clipPath><clipPath id="t3"><path d="M380,281 C384,278.5 388,278 391,278 C395,276.5 398,275 401,275.3 C404.5,275.8 407.5,277 408.8,279 C411,283 412.5,288 414,292 C416,296 416.8,300 416.2,304 C415.5,309 412,313 406,314.3 C399,314.8 392,313.8 386,312.6 C381,311.5 378,309 377,305 C376,300 376.2,294 377,289 C377.6,285.5 378.4,283 380,281 Z"/></clipPath><clipPath id="t4"><path d="M442.5,294 C445.5,292.4 451,292.2 453.5,294.2 C455.5,297 455.3,302.5 453,305.8 C450,307.8 445,307.8 442.2,305.5 C440.3,302.5 440.3,297 442.5,294 Z"/></clipPath></defs>
<g filter="url(#soft)">
<path d="M275,275 C277,271 282,270.5 285,272 C288,270.5 292,271.5 293,275 C295,280 296,285 297,288 C300,292 303,296 303.5,300 C304,306 301,311 296,312 C288,312.8 276,312.8 268,311.5 C264.5,309 264,303 265,298 C266,292 269,287 271,283 C272.5,280 273.5,277 275,275 Z" fill="url(#thy)"/>
<g clip-path="url(#t1)"><g filter="url(#mot)">
<ellipse cx="296.0" cy="284.0" rx="1.7" ry="2.3" fill="#70282a" opacity="0.45"/>
<ellipse cx="304.0" cy="280.2" rx="2.3" ry="1.4" fill="#70282a" opacity="0.65"/>
<ellipse cx="302.3" cy="277.4" rx="2.8" ry="2.4" fill="#7c3030" opacity="0.41"/>
<ellipse cx="267.5" cy="303.5" rx="2.3" ry="2.9" fill="#c8806c" opacity="0.38"/>
<ellipse cx="291.9" cy="308.7" rx="2.4" ry="3.3" fill="#70282a" opacity="0.64"/>
<ellipse cx="293.6" cy="302.0" rx="2.9" ry="3.9" fill="#d09078" opacity="0.64"/>
<ellipse cx="295.4" cy="311.8" rx="1.7" ry="1.5" fill="#642424" opacity="0.69"/>
<ellipse cx="285.2" cy="305.6" rx="2.7" ry="2.8" fill="#bc7060" opacity="0.68"/>
<ellipse cx="272.8" cy="290.3" rx="2.7" ry="3.7" fill="#7c3030" opacity="0.35"/>
<ellipse cx="266.1" cy="297.2" rx="2.7" ry="3.7" fill="#7c3030" opacity="0.39"/>
<ellipse cx="300.2" cy="299.6" rx="1.3" ry="0.9" fill="#bc7060" opacity="0.58"/>
<ellipse cx="285.2" cy="270.7" rx="2.2" ry="1.4" fill="#d09078" opacity="0.55"/>
<ellipse cx="283.3" cy="302.7" rx="2.7" ry="3.1" fill="#c8806c" opacity="0.43"/>
<ellipse cx="282.7" cy="307.2" rx="3.1" ry="2.4" fill="#c8806c" opacity="0.43"/>
<ellipse cx="297.5" cy="276.9" rx="1.5" ry="1.8" fill="#c8806c" opacity="0.58"/>
<ellipse cx="302.7" cy="294.8" rx="2.7" ry="3.4" fill="#bc7060" opacity="0.44"/>
<ellipse cx="268.1" cy="296.7" rx="1.8" ry="1.1" fill="#d09078" opacity="0.66"/>
<ellipse cx="283.5" cy="271.5" rx="2.7" ry="2.7" fill="#bc7060" opacity="0.66"/>
<ellipse cx="291.1" cy="303.5" rx="1.5" ry="2.0" fill="#7c3030" opacity="0.45"/>
<ellipse cx="285.3" cy="305.2" rx="2.0" ry="1.6" fill="#642424" opacity="0.50"/>
<ellipse cx="298.6" cy="307.5" rx="2.9" ry="4.0" fill="#c8806c" opacity="0.62"/>
<ellipse cx="294.2" cy="313.0" rx="2.2" ry="2.2" fill="#642424" opacity="0.53"/>
<ellipse cx="280.0" cy="307.3" rx="2.0" ry="2.2" fill="#642424" opacity="0.65"/>
<ellipse cx="301.0" cy="281.8" rx="1.4" ry="1.9" fill="#bc7060" opacity="0.37"/>
<ellipse cx="287.6" cy="294.1" rx="2.6" ry="3.5" fill="#c8806c" opacity="0.65"/>
<ellipse cx="268.8" cy="299.7" rx="1.5" ry="0.9" fill="#642424" opacity="0.69"/>
</g></g>
<path d="M331,271 C336,269 342,269.5 345,268.5 C348,267.5 350,269 350.5,272 C351,278 350.5,283 351.5,287 C353.5,290 356.5,294 357,300 C357.5,305 355.5,309.5 352,311 C344,311.8 335,311.8 328,311 C325,308.5 324.8,304 325.2,299 C326,293 327.5,287 328,281 C328.5,276 329,273 331,271 Z" fill="url(#thy2)"/>
<g clip-path="url(#t2)"><g filter="url(#mot)">
<ellipse cx="341.5" cy="295.5" rx="3.1" ry="2.8" fill="#bc7060" opacity="0.46"/>
<ellipse cx="346.0" cy="300.4" rx="1.2" ry="1.5" fill="#c8806c" opacity="0.52"/>
<ellipse cx="342.1" cy="304.1" rx="2.1" ry="1.3" fill="#d09078" opacity="0.62"/>
<ellipse cx="350.7" cy="303.5" rx="2.8" ry="2.1" fill="#642424" opacity="0.67"/>
<ellipse cx="354.3" cy="271.9" rx="1.3" ry="1.5" fill="#642424" opacity="0.49"/>
<ellipse cx="330.1" cy="289.2" rx="2.3" ry="1.8" fill="#7c3030" opacity="0.46"/>
<ellipse cx="340.5" cy="287.2" rx="2.3" ry="2.1" fill="#642424" opacity="0.62"/>
<ellipse cx="327.3" cy="302.6" rx="2.5" ry="2.2" fill="#642424" opacity="0.58"/>
<ellipse cx="345.9" cy="276.4" rx="2.2" ry="2.7" fill="#70282a" opacity="0.44"/>
<ellipse cx="355.9" cy="283.2" rx="1.5" ry="1.5" fill="#d09078" opacity="0.45"/>
<ellipse cx="347.7" cy="272.1" rx="2.4" ry="1.4" fill="#d09078" opacity="0.41"/>
<ellipse cx="334.1" cy="286.4" rx="2.2" ry="2.8" fill="#642424" opacity="0.49"/>
<ellipse cx="327.5" cy="287.4" rx="2.9" ry="3.8" fill="#d09078" opacity="0.67"/>
<ellipse cx="337.1" cy="306.2" rx="2.1" ry="1.7" fill="#70282a" opacity="0.69"/>
<ellipse cx="333.7" cy="290.5" rx="2.1" ry="1.8" fill="#642424" opacity="0.38"/>
<ellipse cx="357.0" cy="296.9" rx="2.4" ry="1.7" fill="#7c3030" opacity="0.47"/>
<ellipse cx="347.8" cy="274.3" rx="1.3" ry="0.9" fill="#7c3030" opacity="0.48"/>
<ellipse cx="354.8" cy="279.3" rx="2.8" ry="2.7" fill="#d09078" opacity="0.59"/>
<ellipse cx="327.4" cy="295.9" rx="1.7" ry="2.2" fill="#642424" opacity="0.36"/>
<ellipse cx="340.4" cy="294.9" rx="2.0" ry="1.8" fill="#c8806c" opacity="0.37"/>
<ellipse cx="339.9" cy="285.9" rx="1.4" ry="1.4" fill="#d09078" opacity="0.53"/>
<ellipse cx="353.7" cy="269.4" rx="2.5" ry="1.9" fill="#642424" opacity="0.60"/>
<ellipse cx="343.0" cy="277.4" rx="1.9" ry="1.3" fill="#bc7060" opacity="0.54"/>
<ellipse cx="330.4" cy="296.1" rx="2.6" ry="2.6" fill="#c8806c" opacity="0.39"/>
</g></g>
<path d="M380,281 C384,278.5 388,278 391,278 C395,276.5 398,275 401,275.3 C404.5,275.8 407.5,277 408.8,279 C411,283 412.5,288 414,292 C416,296 416.8,300 416.2,304 C415.5,309 412,313 406,314.3 C399,314.8 392,313.8 386,312.6 C381,311.5 378,309 377,305 C376,300 376.2,294 377,289 C377.6,285.5 378.4,283 380,281 Z" fill="url(#thy3)"/>
<g clip-path="url(#t3)"><g filter="url(#mot)">
<ellipse cx="406.0" cy="304.0" rx="2.4" ry="2.4" fill="#c8806c" opacity="0.39"/>
<ellipse cx="387.6" cy="306.7" rx="3.1" ry="2.8" fill="#7c3030" opacity="0.68"/>
<ellipse cx="388.9" cy="311.1" rx="1.3" ry="1.7" fill="#bc7060" opacity="0.44"/>
<ellipse cx="409.9" cy="276.0" rx="2.9" ry="4.1" fill="#642424" opacity="0.61"/>
<ellipse cx="385.4" cy="294.5" rx="2.8" ry="3.8" fill="#c8806c" opacity="0.67"/>
<ellipse cx="402.5" cy="294.5" rx="2.4" ry="2.2" fill="#d09078" opacity="0.52"/>
<ellipse cx="383.7" cy="307.7" rx="1.3" ry="1.3" fill="#d09078" opacity="0.69"/>
<ellipse cx="399.0" cy="295.3" rx="2.9" ry="3.9" fill="#bc7060" opacity="0.38"/>
<ellipse cx="395.2" cy="280.4" rx="1.9" ry="1.4" fill="#70282a" opacity="0.39"/>
<ellipse cx="398.9" cy="285.8" rx="1.8" ry="2.3" fill="#642424" opacity="0.48"/>
<ellipse cx="386.6" cy="281.3" rx="1.7" ry="1.3" fill="#d09078" opacity="0.60"/>
<ellipse cx="376.3" cy="301.3" rx="3.2" ry="4.0" fill="#bc7060" opacity="0.42"/>
<ellipse cx="377.3" cy="303.3" rx="2.8" ry="3.5" fill="#642424" opacity="0.49"/>
<ellipse cx="381.3" cy="311.8" rx="2.8" ry="3.0" fill="#7c3030" opacity="0.43"/>
<ellipse cx="413.1" cy="296.7" rx="2.6" ry="1.8" fill="#bc7060" opacity="0.62"/>
<ellipse cx="400.0" cy="280.5" rx="2.0" ry="2.3" fill="#bc7060" opacity="0.40"/>
<ellipse cx="397.6" cy="306.0" rx="2.8" ry="2.2" fill="#642424" opacity="0.61"/>
<ellipse cx="405.3" cy="290.9" rx="2.6" ry="2.9" fill="#70282a" opacity="0.42"/>
<ellipse cx="392.1" cy="292.1" rx="1.4" ry="1.2" fill="#bc7060" opacity="0.63"/>
<ellipse cx="413.5" cy="297.9" rx="2.7" ry="1.9" fill="#d09078" opacity="0.51"/>
<ellipse cx="378.7" cy="277.5" rx="1.2" ry="0.9" fill="#7c3030" opacity="0.49"/>
<ellipse cx="397.5" cy="304.4" rx="2.1" ry="1.7" fill="#d09078" opacity="0.49"/>
<ellipse cx="411.1" cy="310.3" rx="1.3" ry="1.3" fill="#70282a" opacity="0.46"/>
<ellipse cx="408.4" cy="314.7" rx="2.8" ry="2.7" fill="#d09078" opacity="0.43"/>
<ellipse cx="379.1" cy="276.1" rx="2.1" ry="1.7" fill="#7c3030" opacity="0.45"/>
<ellipse cx="402.9" cy="289.3" rx="3.2" ry="3.1" fill="#642424" opacity="0.67"/>
</g></g>
<path d="M442.5,294 C445.5,292.4 451,292.2 453.5,294.2 C455.5,297 455.3,302.5 453,305.8 C450,307.8 445,307.8 442.2,305.5 C440.3,302.5 440.3,297 442.5,294 Z" fill="url(#thy4)"/>
<g clip-path="url(#t4)"><g filter="url(#mot)">
<ellipse cx="447.6" cy="303.1" rx="1.9" ry="2.3" fill="#bc7060" opacity="0.37"/>
<ellipse cx="452.2" cy="298.0" rx="1.8" ry="1.9" fill="#642424" opacity="0.60"/>
<ellipse cx="440.2" cy="306.0" rx="2.2" ry="2.0" fill="#bc7060" opacity="0.68"/>
<ellipse cx="450.0" cy="296.8" rx="1.3" ry="1.2" fill="#bc7060" opacity="0.66"/>
<ellipse cx="453.8" cy="306.5" rx="1.7" ry="1.7" fill="#bc7060" opacity="0.69"/>
</g></g>
<path d="M283.5,278 C282.5,283 282,287 283,291" stroke="#5a2020" stroke-width="2.2" fill="none" opacity="0.75"/>
</g>
<circle cx="277" cy="280" r="0.9" fill="#e0b0a0" opacity="0.6"/>
<circle cx="290" cy="286" r="0.7" fill="#e0b0a0" opacity="0.6"/>
<circle cx="286" cy="303" r="0.7" fill="#e0b0a0" opacity="0.6"/>
<circle cx="334" cy="281" r="0.8" fill="#e0b0a0" opacity="0.6"/>
<circle cx="347" cy="300" r="0.7" fill="#e0b0a0" opacity="0.6"/>
<circle cx="393" cy="288" r="0.8" fill="#e0b0a0" opacity="0.6"/>
<circle cx="402" cy="283" r="0.7" fill="#e0b0a0" opacity="0.6"/>
<circle cx="398" cy="306" r="0.7" fill="#e0b0a0" opacity="0.6"/>
<circle cx="283" cy="296" r="0.6" fill="#e0b0a0" opacity="0.6"/>
<circle cx="338" cy="296" r="0.6" fill="#e0b0a0" opacity="0.6"/>
<circle cx="405" cy="300" r="0.6" fill="#e0b0a0" opacity="0.6"/>
<text x="8.20" y="349.70" font-size="12" fill="#000" stroke="#000" text-anchor="start" font-weight="bold" style="stroke-width:0.3px">E</text>
<line x1="61.80" y1="375.80" x2="61.80" y2="451.30" stroke="#111" stroke-width="1.3" />
<line x1="61.20" y1="450.70" x2="184.00" y2="450.70" stroke="#111" stroke-width="1.3" />
<line x1="58.40" y1="376.75" x2="61.80" y2="376.75" stroke="#111" stroke-width="1.1" />
<text x="55.70" y="379.65" font-size="8.2" fill="#222" stroke="#222" text-anchor="end"  style="stroke-width:0.3px">15</text>
<line x1="58.40" y1="401.40" x2="61.80" y2="401.40" stroke="#111" stroke-width="1.1" />
<text x="55.70" y="404.30" font-size="8.2" fill="#222" stroke="#222" text-anchor="end"  style="stroke-width:0.3px">10</text>
<line x1="58.40" y1="426.05" x2="61.80" y2="426.05" stroke="#111" stroke-width="1.1" />
<text x="55.70" y="428.95" font-size="8.2" fill="#222" stroke="#222" text-anchor="end"  style="stroke-width:0.3px">5</text>
<line x1="58.40" y1="450.70" x2="61.80" y2="450.70" stroke="#111" stroke-width="1.1" />
<text x="55.70" y="453.60" font-size="8.2" fill="#222" stroke="#222" text-anchor="end"  style="stroke-width:0.3px">0</text>
<line x1="72.30" y1="450.70" x2="72.30" y2="453.70" stroke="#111" stroke-width="1.1" />
<line x1="92.60" y1="450.70" x2="92.60" y2="453.70" stroke="#111" stroke-width="1.1" />
<line x1="112.80" y1="450.70" x2="112.80" y2="453.70" stroke="#111" stroke-width="1.1" />
<line x1="133.00" y1="450.70" x2="133.00" y2="453.70" stroke="#111" stroke-width="1.1" />
<line x1="153.20" y1="450.70" x2="153.20" y2="453.70" stroke="#111" stroke-width="1.1" />
<line x1="173.40" y1="450.70" x2="173.40" y2="453.70" stroke="#111" stroke-width="1.1" />
<text x="0" y="0" font-size="9.1" fill="#1a1a1a" stroke="#1a1a1a" text-anchor="middle" textLength="73.5" lengthAdjust="spacingAndGlyphs" transform="translate(28.6,412.2) rotate(-90)">Thymic cellularity</text>
<text x="0" y="0" font-size="9.4" fill="#1a1a1a" stroke="#1a1a1a" text-anchor="middle" transform="translate(40.3,412.4) rotate(-90)">(x10<tspan dy="-3.6" font-size="5.6">7</tspan><tspan dy="3.6">)</tspan></text>
<circle cx="70.80" cy="395.90" r="1.55" fill="#264a84"/>
<circle cx="73.60" cy="397.40" r="1.55" fill="#264a84"/>
<circle cx="72.20" cy="411.20" r="1.55" fill="#264a84"/>
<line x1="65.40" y1="401.50" x2="79.00" y2="401.50" stroke="#264a84" stroke-width="1.1" />
<line x1="72.20" y1="397.60" x2="72.20" y2="404.80" stroke="#264a84" stroke-width="1.1" />
<line x1="69.00" y1="397.60" x2="75.40" y2="397.60" stroke="#264a84" stroke-width="1.1" />
<line x1="69.00" y1="404.80" x2="75.40" y2="404.80" stroke="#264a84" stroke-width="1.1" />
<rect x="88.30" y="402.70" width="3.00" height="3.00" fill="#b01030" />
<rect x="92.80" y="406.90" width="3.00" height="3.00" fill="#b01030" />
<rect x="93.20" y="412.90" width="3.00" height="3.00" fill="#b01030" />
<rect x="88.30" y="414.50" width="3.00" height="3.00" fill="#b01030" />
<line x1="85.60" y1="410.80" x2="99.60" y2="410.80" stroke="#b01030" stroke-width="1.1" />
<line x1="92.60" y1="407.40" x2="92.60" y2="414.20" stroke="#b01030" stroke-width="1.1" />
<line x1="89.40" y1="407.40" x2="95.80" y2="407.40" stroke="#b01030" stroke-width="1.1" />
<line x1="89.40" y1="414.20" x2="95.80" y2="414.20" stroke="#b01030" stroke-width="1.1" />
<circle cx="112.70" cy="390.40" r="1.55" fill="#264a84"/>
<circle cx="112.70" cy="397.10" r="1.55" fill="#264a84"/>
<circle cx="109.60" cy="404.20" r="1.55" fill="#264a84"/>
<circle cx="115.80" cy="404.20" r="1.55" fill="#264a84"/>
<circle cx="109.80" cy="411.60" r="1.55" fill="#264a84"/>
<circle cx="115.40" cy="412.20" r="1.55" fill="#264a84"/>
<circle cx="112.70" cy="419.20" r="1.55" fill="#264a84"/>
<line x1="105.80" y1="404.60" x2="119.60" y2="404.60" stroke="#264a84" stroke-width="1.1" />
<line x1="112.70" y1="401.20" x2="112.70" y2="408.00" stroke="#264a84" stroke-width="1.1" />
<line x1="109.50" y1="401.20" x2="115.90" y2="401.20" stroke="#264a84" stroke-width="1.1" />
<line x1="109.50" y1="408.00" x2="115.90" y2="408.00" stroke="#264a84" stroke-width="1.1" />
<rect x="127.70" y="397.90" width="3.00" height="3.00" fill="#b01030" />
<rect x="133.80" y="394.70" width="3.00" height="3.00" fill="#b01030" />
<rect x="125.90" y="402.50" width="3.00" height="3.00" fill="#b01030" />
<rect x="135.90" y="399.50" width="3.00" height="3.00" fill="#b01030" />
<rect x="131.30" y="400.50" width="3.00" height="3.00" fill="#b01030" />
<rect x="126.50" y="407.90" width="3.00" height="3.00" fill="#b01030" />
<rect x="131.30" y="409.70" width="3.00" height="3.00" fill="#b01030" />
<rect x="135.90" y="407.90" width="3.00" height="3.00" fill="#b01030" />
<rect x="131.50" y="404.00" width="3.00" height="3.00" fill="#b01030" />
<line x1="126.00" y1="404.20" x2="140.00" y2="404.20" stroke="#b01030" stroke-width="1.1" />
<line x1="133.00" y1="401.80" x2="133.00" y2="406.60" stroke="#b01030" stroke-width="1.1" />
<line x1="129.80" y1="401.80" x2="136.20" y2="401.80" stroke="#b01030" stroke-width="1.1" />
<line x1="129.80" y1="406.60" x2="136.20" y2="406.60" stroke="#b01030" stroke-width="1.1" />
<circle cx="148.30" cy="394.20" r="1.55" fill="#264a84"/>
<circle cx="158.00" cy="391.60" r="1.55" fill="#264a84"/>
<circle cx="153.40" cy="399.40" r="1.55" fill="#264a84"/>
<circle cx="151.00" cy="392.80" r="1.55" fill="#264a84"/>
<circle cx="155.60" cy="393.00" r="1.55" fill="#264a84"/>
<line x1="146.60" y1="394.20" x2="159.80" y2="394.20" stroke="#264a84" stroke-width="1.1" />
<line x1="153.20" y1="392.60" x2="153.20" y2="396.20" stroke="#264a84" stroke-width="1.1" />
<line x1="150.00" y1="392.60" x2="156.40" y2="392.60" stroke="#264a84" stroke-width="1.1" />
<line x1="150.00" y1="396.20" x2="156.40" y2="396.20" stroke="#264a84" stroke-width="1.1" />
<rect x="167.10" y="445.80" width="2.80" height="2.80" fill="#b01030" />
<rect x="169.60" y="447.40" width="2.80" height="2.80" fill="#b01030" />
<rect x="172.00" y="447.90" width="2.80" height="2.80" fill="#b01030" />
<rect x="174.60" y="447.20" width="2.80" height="2.80" fill="#b01030" />
<rect x="177.20" y="445.60" width="2.80" height="2.80" fill="#b01030" />
<line x1="166.80" y1="448.00" x2="180.00" y2="448.00" stroke="#b01030" stroke-width="1.1" />
<text x="162.80" y="385.10" font-size="7.8" fill="#b01030" stroke="#b01030" text-anchor="middle"  style="stroke-width:0;letter-spacing:0.5px">****</text>
<line x1="154.00" y1="385.80" x2="172.80" y2="385.80" stroke="#b01030" stroke-width="1.2" />
<text x="0" y="0" font-size="8.9" fill="#1a1a1a" stroke="#1a1a1a" text-anchor="end" transform="translate(74.40,461.3) rotate(-45)">Bcl2<tspan dx="0.8" dy="-3.8" font-size="4.6">lox/lox</tspan></text>
<text x="0" y="0" font-size="8.9" fill="#1a1a1a" stroke="#1a1a1a" text-anchor="end" transform="translate(94.70,461.3) rotate(-45)">Bcl2<tspan dx="0.8" dy="-3.8" font-size="4.6">ΔFoxn1</tspan></text>
<text x="0" y="0" font-size="8.9" fill="#1a1a1a" stroke="#1a1a1a" text-anchor="end" transform="translate(114.90,461.3) rotate(-45)">Bclx<tspan dy="2" font-size="4.6">L</tspan><tspan dx="0.6" dy="-6.6" font-size="4.6">lox/lox</tspan></text>
<text x="0" y="0" font-size="8.9" fill="#1a1a1a" stroke="#1a1a1a" text-anchor="end" transform="translate(135.10,461.3) rotate(-45)">Bclx<tspan dy="2" font-size="4.6">L</tspan><tspan dx="0.6" dy="-6.6" font-size="4.6">ΔFoxn1</tspan></text>
<text x="0" y="0" font-size="8.9" fill="#1a1a1a" stroke="#1a1a1a" text-anchor="end" transform="translate(155.30,461.3) rotate(-45)">Controls</text>
<text x="0" y="0" font-size="8.9" fill="#1a1a1a" stroke="#1a1a1a" text-anchor="end" transform="translate(175.50,461.3) rotate(-45)">Mcl1<tspan dx="1.2" dy="-3.8" font-size="4.6">ΔFoxn1</tspan></text>
<text x="229.20" y="349.40" font-size="12" fill="#000" stroke="#000" text-anchor="start" font-weight="bold" style="stroke-width:0.3px">F</text>
<circle cx="283.30" cy="352.60" r="1.4" fill="#1e4a5a"/>
<text x="288.20" y="355.00" font-size="6.9" fill="#222" stroke="#222" text-anchor="start"  style="stroke-width:0.18px">Controls</text>
<rect x="281.70" y="364.30" width="3.40" height="3.40" fill="#b01030" />
<text x="288.30" y="368.60" font-size="6.9" fill="#222" stroke="#222" text-anchor="start"  style="font-style:italic;stroke-width:0.18px">Mcl1<tspan dx="1.4" dy="-3.6" font-size="4.9">ΔFoxn1</tspan></text>
<line x1="278.60" y1="373.40" x2="278.60" y2="400.80" stroke="#111" stroke-width="1.3" />
<line x1="278.60" y1="407.80" x2="278.60" y2="431.30" stroke="#111" stroke-width="1.3" />
<line x1="278.60" y1="439.40" x2="278.60" y2="463.50" stroke="#111" stroke-width="1.3" />
<line x1="275.40" y1="400.80" x2="281.80" y2="400.80" stroke="#111" stroke-width="1.2" />
<line x1="275.40" y1="407.80" x2="281.80" y2="407.80" stroke="#111" stroke-width="1.2" />
<line x1="275.40" y1="431.30" x2="281.80" y2="431.30" stroke="#111" stroke-width="1.2" />
<line x1="275.40" y1="439.40" x2="281.80" y2="439.40" stroke="#111" stroke-width="1.2" />
<line x1="275.40" y1="376.70" x2="278.60" y2="376.70" stroke="#111" stroke-width="1.1" />
<text x="273.30" y="379.60" font-size="8.2" fill="#222" stroke="#222" text-anchor="end"  style="stroke-width:0.3px">20</text>
<line x1="275.40" y1="391.10" x2="278.60" y2="391.10" stroke="#111" stroke-width="1.1" />
<text x="273.30" y="394.00" font-size="8.2" fill="#222" stroke="#222" text-anchor="end"  style="stroke-width:0.3px">10</text>
<line x1="275.40" y1="407.80" x2="278.60" y2="407.80" stroke="#111" stroke-width="1.1" />
<text x="273.30" y="410.70" font-size="8.2" fill="#222" stroke="#222" text-anchor="end"  style="stroke-width:0.3px">4</text>
<line x1="275.40" y1="419.70" x2="278.60" y2="419.70" stroke="#111" stroke-width="1.1" />
<text x="273.30" y="422.60" font-size="8.2" fill="#222" stroke="#222" text-anchor="end"  style="stroke-width:0.3px">2</text>
<line x1="275.40" y1="439.40" x2="278.60" y2="439.40" stroke="#111" stroke-width="1.1" />
<text x="273.30" y="442.30" font-size="8.2" fill="#222" stroke="#222" text-anchor="end"  style="stroke-width:0.3px">0.06</text>
<line x1="275.40" y1="451.40" x2="278.60" y2="451.40" stroke="#111" stroke-width="1.1" />
<text x="273.30" y="454.30" font-size="8.2" fill="#222" stroke="#222" text-anchor="end"  style="stroke-width:0.3px">0.03</text>
<line x1="275.40" y1="463.30" x2="278.60" y2="463.30" stroke="#111" stroke-width="1.1" />
<text x="273.30" y="466.20" font-size="8.2" fill="#222" stroke="#222" text-anchor="end"  style="stroke-width:0.3px">0</text>
<line x1="278.00" y1="463.50" x2="511.70" y2="463.50" stroke="#111" stroke-width="1.3" />
<line x1="297.10" y1="463.50" x2="297.10" y2="466.50" stroke="#111" stroke-width="1.1" />
<line x1="336.20" y1="463.50" x2="336.20" y2="466.50" stroke="#111" stroke-width="1.1" />
<line x1="374.30" y1="463.50" x2="374.30" y2="466.50" stroke="#111" stroke-width="1.1" />
<line x1="412.30" y1="463.50" x2="412.30" y2="466.50" stroke="#111" stroke-width="1.1" />
<line x1="451.00" y1="463.50" x2="451.00" y2="466.50" stroke="#111" stroke-width="1.1" />
<line x1="489.80" y1="463.50" x2="489.80" y2="466.50" stroke="#111" stroke-width="1.1" />
<text x="297.10" y="477.60" font-size="8.2" fill="#1a1a1a" stroke="#1a1a1a" text-anchor="middle"  style="stroke-width:0.3px">E15.5</text>
<text x="336.20" y="477.60" font-size="8.2" fill="#1a1a1a" stroke="#1a1a1a" text-anchor="middle"  style="stroke-width:0.3px">day 0-1</text>
<text x="374.30" y="477.60" font-size="8.2" fill="#1a1a1a" stroke="#1a1a1a" text-anchor="middle"  style="stroke-width:0.3px">day 9-10</text>
<text x="412.30" y="477.60" font-size="8.2" fill="#1a1a1a" stroke="#1a1a1a" text-anchor="middle"  style="stroke-width:0.3px">day 14-15</text>
<text x="451.00" y="477.60" font-size="8.2" fill="#1a1a1a" stroke="#1a1a1a" text-anchor="middle"  style="stroke-width:0.3px">2 months</text>
<text x="489.80" y="477.60" font-size="8.2" fill="#1a1a1a" stroke="#1a1a1a" text-anchor="middle"  style="stroke-width:0.3px">6 months</text>
<text x="0" y="0" font-size="8.4" fill="#1a1a1a" stroke="#1a1a1a" text-anchor="middle" transform="translate(250.6,417.4) rotate(-90)">Thymic cellularity (x10<tspan dy="-3" font-size="5">7</tspan><tspan dy="3">)</tspan></text>
<circle cx="288.00" cy="444.20" r="1.75" fill="#2a4c86"/>
<circle cx="291.00" cy="443.90" r="1.75" fill="#2a4c86"/>
<circle cx="293.00" cy="445.20" r="1.75" fill="#2a4c86"/>
<circle cx="287.30" cy="446.60" r="1.75" fill="#2a4c86"/>
<circle cx="290.00" cy="446.80" r="1.75" fill="#2a4c86"/>
<circle cx="292.60" cy="447.60" r="1.75" fill="#2a4c86"/>
<circle cx="288.60" cy="448.60" r="1.75" fill="#2a4c86"/>
<circle cx="291.20" cy="449.20" r="1.75" fill="#2a4c86"/>
<circle cx="287.60" cy="450.60" r="1.75" fill="#2a4c86"/>
<circle cx="290.40" cy="451.20" r="1.75" fill="#2a4c86"/>
<circle cx="289.00" cy="452.20" r="1.75" fill="#2a4c86"/>
<circle cx="292.40" cy="450.60" r="1.75" fill="#2a4c86"/>
<line x1="286.50" y1="447.80" x2="293.50" y2="447.80" stroke="#2a4c86" stroke-width="1.0" />
<rect x="300.10" y="454.10" width="3.00" height="3.00" fill="#b01030" />
<rect x="302.60" y="454.90" width="3.00" height="3.00" fill="#b01030" />
<rect x="305.10" y="454.50" width="3.00" height="3.00" fill="#b01030" />
<rect x="306.70" y="455.50" width="3.00" height="3.00" fill="#b01030" />
<rect x="301.50" y="455.80" width="3.00" height="3.00" fill="#b01030" />
<rect x="304.10" y="456.10" width="3.00" height="3.00" fill="#b01030" />
<line x1="300.50" y1="456.60" x2="309.20" y2="456.60" stroke="#b01030" stroke-width="1.0" />
<circle cx="325.60" cy="424.60" r="1.75" fill="#2a4c86"/>
<circle cx="328.10" cy="424.00" r="1.75" fill="#2a4c86"/>
<circle cx="330.60" cy="424.60" r="1.75" fill="#2a4c86"/>
<circle cx="327.00" cy="426.20" r="1.75" fill="#2a4c86"/>
<circle cx="329.60" cy="426.30" r="1.75" fill="#2a4c86"/>
<circle cx="331.60" cy="425.60" r="1.75" fill="#2a4c86"/>
<line x1="324.50" y1="425.30" x2="332.50" y2="425.30" stroke="#2a4c86" stroke-width="1.0" />
<rect x="338.70" y="425.30" width="3.00" height="3.00" fill="#b01030" />
<rect x="341.10" y="425.90" width="3.00" height="3.00" fill="#b01030" />
<rect x="343.50" y="425.40" width="3.00" height="3.00" fill="#b01030" />
<rect x="345.00" y="427.00" width="3.00" height="3.00" fill="#b01030" />
<rect x="340.10" y="427.60" width="3.00" height="3.00" fill="#b01030" />
<rect x="342.70" y="427.80" width="3.00" height="3.00" fill="#b01030" />
<line x1="339.00" y1="428.00" x2="347.50" y2="428.00" stroke="#b01030" stroke-width="1.0" />
<circle cx="369.30" cy="388.70" r="1.75" fill="#2a4c86"/>
<circle cx="364.20" cy="390.20" r="1.75" fill="#2a4c86"/>
<circle cx="366.80" cy="391.50" r="1.75" fill="#2a4c86"/>
<circle cx="363.60" cy="393.80" r="1.75" fill="#2a4c86"/>
<circle cx="368.60" cy="393.60" r="1.75" fill="#2a4c86"/>
<circle cx="366.00" cy="395.20" r="1.75" fill="#2a4c86"/>
<circle cx="363.80" cy="396.80" r="1.75" fill="#2a4c86"/>
<circle cx="368.80" cy="397.20" r="1.75" fill="#2a4c86"/>
<circle cx="366.20" cy="398.40" r="1.75" fill="#2a4c86"/>
<circle cx="365.60" cy="400.00" r="1.75" fill="#2a4c86"/>
<circle cx="367.40" cy="389.80" r="1.75" fill="#2a4c86"/>
<circle cx="365.00" cy="392.60" r="1.75" fill="#2a4c86"/>
<line x1="362.40" y1="394.60" x2="371.20" y2="394.60" stroke="#2a4c86" stroke-width="1.1" />
<rect x="380.40" y="414.10" width="3.00" height="3.00" fill="#b01030" />
<rect x="377.70" y="415.90" width="3.00" height="3.00" fill="#b01030" />
<rect x="383.10" y="415.90" width="3.00" height="3.00" fill="#b01030" />
<rect x="380.40" y="417.00" width="3.00" height="3.00" fill="#b01030" />
<rect x="377.30" y="418.30" width="3.00" height="3.00" fill="#b01030" />
<rect x="383.50" y="418.30" width="3.00" height="3.00" fill="#b01030" />
<rect x="380.40" y="419.90" width="3.00" height="3.00" fill="#b01030" />
<rect x="378.70" y="418.90" width="3.00" height="3.00" fill="#b01030" />
<rect x="382.10" y="418.90" width="3.00" height="3.00" fill="#b01030" />
<line x1="377.50" y1="418.60" x2="386.30" y2="418.60" stroke="#b01030" stroke-width="1.1" />
<circle cx="405.00" cy="386.90" r="1.75" fill="#2a4c86"/>
<circle cx="401.80" cy="391.60" r="1.75" fill="#2a4c86"/>
<circle cx="404.20" cy="391.80" r="1.75" fill="#2a4c86"/>
<circle cx="407.40" cy="391.40" r="1.75" fill="#2a4c86"/>
<circle cx="405.60" cy="393.20" r="1.75" fill="#2a4c86"/>
<circle cx="403.00" cy="392.80" r="1.75" fill="#2a4c86"/>
<circle cx="405.00" cy="395.40" r="1.75" fill="#2a4c86"/>
<line x1="400.50" y1="392.00" x2="409.50" y2="392.00" stroke="#2a4c86" stroke-width="1.1" />
<rect x="415.10" y="406.10" width="3.00" height="3.00" fill="#b01030" />
<rect x="417.90" y="406.70" width="3.00" height="3.00" fill="#b01030" />
<rect x="420.90" y="407.10" width="3.00" height="3.00" fill="#b01030" />
<rect x="416.50" y="408.90" width="3.00" height="3.00" fill="#b01030" />
<rect x="419.50" y="409.30" width="3.00" height="3.00" fill="#b01030" />
<rect x="421.90" y="409.10" width="3.00" height="3.00" fill="#b01030" />
<rect x="418.10" y="416.70" width="3.00" height="3.00" fill="#b01030" />
<line x1="415.40" y1="411.00" x2="424.60" y2="411.00" stroke="#b01030" stroke-width="1.1" />
<line x1="420.00" y1="408.80" x2="420.00" y2="413.20" stroke="#b01030" stroke-width="1.1" />
<line x1="418.00" y1="408.80" x2="422.00" y2="408.80" stroke="#b01030" stroke-width="1.1" />
<line x1="418.00" y1="413.20" x2="422.00" y2="413.20" stroke="#b01030" stroke-width="1.1" />
<circle cx="441.00" cy="390.60" r="1.75" fill="#2a4c86"/>
<circle cx="443.40" cy="389.60" r="1.75" fill="#2a4c86"/>
<circle cx="445.80" cy="388.60" r="1.75" fill="#2a4c86"/>
<circle cx="447.20" cy="388.20" r="1.75" fill="#2a4c86"/>
<circle cx="442.60" cy="390.80" r="1.75" fill="#2a4c86"/>
<circle cx="444.60" cy="389.40" r="1.75" fill="#2a4c86"/>
<line x1="439.60" y1="389.50" x2="448.60" y2="389.50" stroke="#2a4c86" stroke-width="1.1" />
<rect x="453.50" y="427.10" width="3.00" height="3.00" fill="#b01030" />
<rect x="456.00" y="427.90" width="3.00" height="3.00" fill="#b01030" />
<rect x="458.50" y="427.90" width="3.00" height="3.00" fill="#b01030" />
<rect x="460.70" y="427.10" width="3.00" height="3.00" fill="#b01030" />
<rect x="457.10" y="428.70" width="3.00" height="3.00" fill="#b01030" />
<rect x="454.90" y="428.30" width="3.00" height="3.00" fill="#b01030" />
<line x1="453.50" y1="429.20" x2="463.00" y2="429.20" stroke="#b01030" stroke-width="1.1" />
<circle cx="479.90" cy="384.30" r="1.75" fill="#2a4c86"/>
<circle cx="484.40" cy="383.60" r="1.75" fill="#2a4c86"/>
<circle cx="482.20" cy="388.20" r="1.75" fill="#2a4c86"/>
<circle cx="479.70" cy="397.40" r="1.75" fill="#2a4c86"/>
<circle cx="484.40" cy="397.40" r="1.75" fill="#2a4c86"/>
<line x1="477.40" y1="390.80" x2="487.00" y2="390.80" stroke="#2a4c86" stroke-width="1.1" />
<line x1="482.20" y1="386.80" x2="482.20" y2="394.80" stroke="#2a4c86" stroke-width="1.1" />
<line x1="479.80" y1="386.80" x2="484.60" y2="386.80" stroke="#2a4c86" stroke-width="1.1" />
<line x1="479.80" y1="394.80" x2="484.60" y2="394.80" stroke="#2a4c86" stroke-width="1.1" />
<rect x="495.60" y="422.90" width="3.00" height="3.00" fill="#b01030" />
<rect x="495.60" y="428.10" width="3.00" height="3.00" fill="#b01030" />
<line x1="492.30" y1="427.00" x2="501.30" y2="427.00" stroke="#b01030" stroke-width="1.2" />
<text x="297.10" y="425.30" font-size="7" fill="#56689a" stroke="#56689a" text-anchor="middle"  style="stroke-width:0.18px">(2.4 fold)</text>
<text x="337.00" y="403.20" font-size="7" fill="#56689a" stroke="#56689a" text-anchor="middle"  style="stroke-width:0.18px">(1.6 fold)</text>
<text x="373.50" y="368.00" font-size="7" fill="#56689a" stroke="#56689a" text-anchor="middle"  style="stroke-width:0.18px">(4 fold)</text>
<text x="412.70" y="368.00" font-size="7" fill="#56689a" stroke="#56689a" text-anchor="middle"  style="stroke-width:0.18px">(2.8 fold)</text>
<text x="449.00" y="367.40" font-size="7" fill="#56689a" stroke="#56689a" text-anchor="middle"  style="stroke-width:0.18px">(20 fold)</text>
<text x="487.50" y="361.60" font-size="7" fill="#56689a" stroke="#56689a" text-anchor="middle"  style="stroke-width:0.18px">(12.7 fold)</text>
<text x="297.00" y="435.30" font-size="7.8" fill="#b01030" stroke="#b01030" text-anchor="middle"  style="stroke-width:0;letter-spacing:0.5px">****</text>
<text x="337.00" y="413.20" font-size="7.8" fill="#b01030" stroke="#b01030" text-anchor="middle"  style="stroke-width:0;letter-spacing:0.5px">***</text>
<text x="373.70" y="378.90" font-size="7.8" fill="#b01030" stroke="#b01030" text-anchor="middle"  style="stroke-width:0;letter-spacing:0.5px">****</text>
<text x="412.50" y="378.90" font-size="7.8" fill="#b01030" stroke="#b01030" text-anchor="middle"  style="stroke-width:0;letter-spacing:0.5px">****</text>
<text x="449.20" y="378.40" font-size="7.8" fill="#b01030" stroke="#b01030" text-anchor="middle"  style="stroke-width:0;letter-spacing:0.5px">****</text>
<text x="487.30" y="372.30" font-size="7.8" fill="#b01030" stroke="#b01030" text-anchor="middle"  style="stroke-width:0;letter-spacing:0.5px">*</text>
<line x1="290.40" y1="437.70" x2="303.80" y2="437.70" stroke="#b01030" stroke-width="1.2" />
<line x1="330.80" y1="415.20" x2="343.30" y2="415.20" stroke="#b01030" stroke-width="1.2" />
<line x1="366.50" y1="380.80" x2="381.00" y2="380.80" stroke="#b01030" stroke-width="1.2" />
<line x1="405.40" y1="380.80" x2="420.00" y2="380.80" stroke="#b01030" stroke-width="1.2" />
<line x1="442.10" y1="380.00" x2="456.20" y2="380.00" stroke="#b01030" stroke-width="1.2" />
<line x1="480.00" y1="375.00" x2="495.00" y2="375.00" stroke="#b01030" stroke-width="1.2" />
<rect x="0.00" y="0.00" width="520.00" height="1.50" fill="#000" />
<rect x="0.00" y="0.00" width="1.60" height="497.00" fill="#000" />
<rect x="518.40" y="0.00" width="1.60" height="497.00" fill="#000" />
<rect x="0.00" y="494.80" width="520.00" height="2.20" fill="#000" />
</svg></body></html>
